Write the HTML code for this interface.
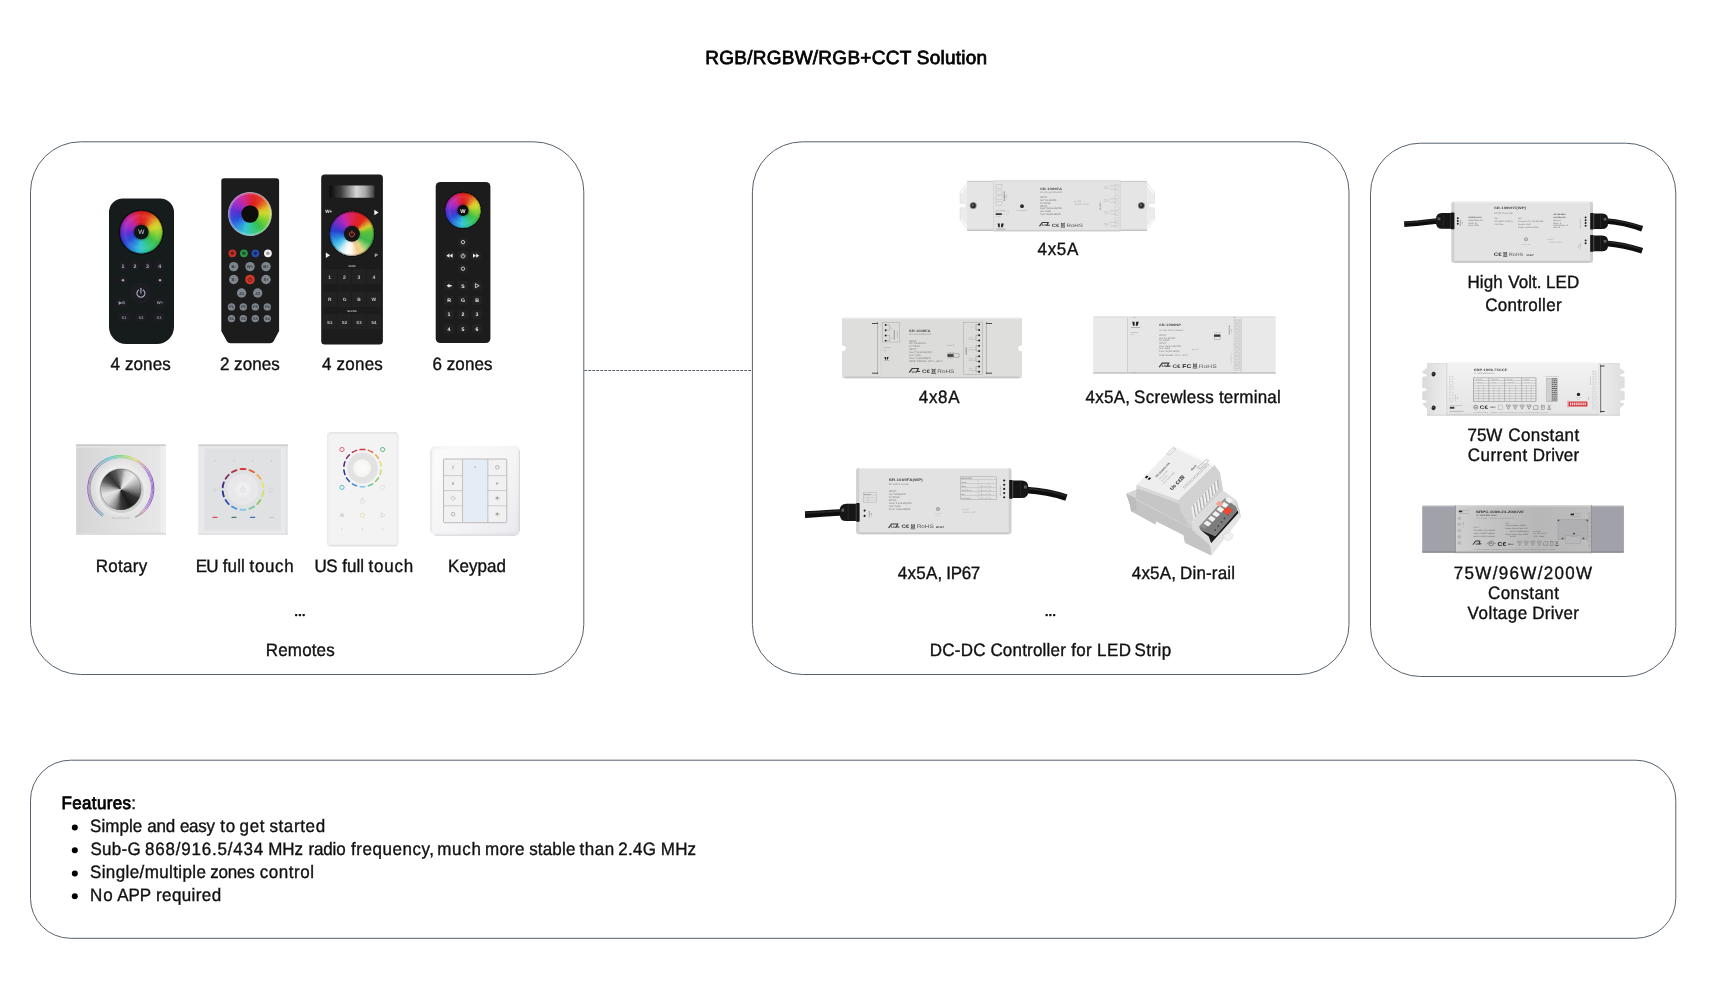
<!DOCTYPE html>
<html><head><meta charset="utf-8"><title>RGB/RGBW/RGB+CCT Solution</title>
<style>
html,body{margin:0;padding:0;background:#fff;}
body{width:1733px;height:1000px;overflow:hidden;font-family:'Liberation Sans', sans-serif;}
svg{display:block;position:absolute;left:0;top:0;will-change:transform;}
svg text{font-family:'Liberation Sans', sans-serif;text-rendering:geometricPrecision;}
</style></head>
<body>
<svg width="1733" height="1000" viewBox="0 0 1733 1000">
<rect x="30.5" y="141.8" width="553.30" height="532.70" rx="50" ry="50" fill="none" stroke="#56606c" stroke-width="1"/>
<rect x="752.4" y="141.8" width="596.60" height="532.70" rx="50" ry="50" fill="none" stroke="#56606c" stroke-width="1"/>
<rect x="1370.5" y="143.2" width="305.30" height="533.30" rx="50" ry="50" fill="none" stroke="#56606c" stroke-width="1"/>
<rect x="30.5" y="760.2" width="1645.30" height="178.10" rx="40" ry="40" fill="none" stroke="#56606c" stroke-width="1"/>
<line x1="584.3" y1="370.5" x2="752" y2="370.5" stroke="#56606c" stroke-width="1" stroke-dasharray="2.8 1.2"/>
<g id="txt">
<text x="705.20" y="63.70" font-size="19" font-weight="normal" fill="#000" stroke="#000" stroke-width="0.75" textLength="282.00" lengthAdjust="spacing"  >RGB/RGBW/RGB+CCT Solution</text>
<text x="110.50" y="370.00" font-size="17" font-weight="normal" fill="#111" stroke="#111" stroke-width="0.35" textLength="10.50" lengthAdjust="spacing" transform="matrix(1 0 0 1.055 0 -20.350)" >4</text>
<text x="125.00" y="370.00" font-size="17" font-weight="normal" fill="#111" stroke="#111" stroke-width="0.35" textLength="45.70" lengthAdjust="spacing" transform="matrix(1 0 0 1.055 0 -20.350)" >zones</text>
<text x="220.10" y="370.00" font-size="17" font-weight="normal" fill="#111" stroke="#111" stroke-width="0.35" textLength="10.00" lengthAdjust="spacing" transform="matrix(1 0 0 1.055 0 -20.350)" >2</text>
<text x="234.10" y="370.00" font-size="17" font-weight="normal" fill="#111" stroke="#111" stroke-width="0.35" textLength="45.70" lengthAdjust="spacing" transform="matrix(1 0 0 1.055 0 -20.350)" >zones</text>
<text x="322.10" y="370.00" font-size="17" font-weight="normal" fill="#111" stroke="#111" stroke-width="0.35" textLength="10.50" lengthAdjust="spacing" transform="matrix(1 0 0 1.055 0 -20.350)" >4</text>
<text x="336.60" y="370.00" font-size="17" font-weight="normal" fill="#111" stroke="#111" stroke-width="0.35" textLength="46.20" lengthAdjust="spacing" transform="matrix(1 0 0 1.055 0 -20.350)" >zones</text>
<text x="432.40" y="370.00" font-size="17" font-weight="normal" fill="#111" stroke="#111" stroke-width="0.35" textLength="10.20" lengthAdjust="spacing" transform="matrix(1 0 0 1.055 0 -20.350)" >6</text>
<text x="446.70" y="370.00" font-size="17" font-weight="normal" fill="#111" stroke="#111" stroke-width="0.35" textLength="45.90" lengthAdjust="spacing" transform="matrix(1 0 0 1.055 0 -20.350)" >zones</text>
<text x="95.70" y="572.40" font-size="17" font-weight="normal" fill="#111" stroke="#111" stroke-width="0.35" textLength="51.60" lengthAdjust="spacing" transform="matrix(1 0 0 1.055 0 -31.482)" >Rotary</text>
<text x="195.80" y="572.40" font-size="17" font-weight="normal" fill="#111" stroke="#111" stroke-width="0.35" textLength="22.70" lengthAdjust="spacing" transform="matrix(1 0 0 1.055 0 -31.482)" >EU</text>
<text x="222.80" y="572.40" font-size="17" font-weight="normal" fill="#111" stroke="#111" stroke-width="0.35" textLength="22.00" lengthAdjust="spacing" transform="matrix(1 0 0 1.055 0 -31.482)" >full</text>
<text x="249.60" y="572.40" font-size="17" font-weight="normal" fill="#111" stroke="#111" stroke-width="0.35" textLength="44.10" lengthAdjust="spacing" transform="matrix(1 0 0 1.055 0 -31.482)" >touch</text>
<text x="314.60" y="572.40" font-size="17" font-weight="normal" fill="#111" stroke="#111" stroke-width="0.35" textLength="23.10" lengthAdjust="spacing" transform="matrix(1 0 0 1.055 0 -31.482)" >US</text>
<text x="342.20" y="572.40" font-size="17" font-weight="normal" fill="#111" stroke="#111" stroke-width="0.35" textLength="21.80" lengthAdjust="spacing" transform="matrix(1 0 0 1.055 0 -31.482)" >full</text>
<text x="368.50" y="572.40" font-size="17" font-weight="normal" fill="#111" stroke="#111" stroke-width="0.35" textLength="44.60" lengthAdjust="spacing" transform="matrix(1 0 0 1.055 0 -31.482)" >touch</text>
<text x="448.10" y="572.40" font-size="17" font-weight="normal" fill="#111" stroke="#111" stroke-width="0.35" textLength="57.90" lengthAdjust="spacing" transform="matrix(1 0 0 1.055 0 -31.482)" >Keypad</text>
<text x="265.80" y="656.00" font-size="17" font-weight="normal" fill="#111" stroke="#111" stroke-width="0.35" textLength="68.90" lengthAdjust="spacing" transform="matrix(1 0 0 1.055 0 -36.080)" >Remotes</text>
<text x="1037.50" y="255.40" font-size="17" font-weight="normal" fill="#111" stroke="#111" stroke-width="0.35" textLength="40.80" lengthAdjust="spacing" transform="matrix(1 0 0 1.055 0 -14.047)" >4x5A</text>
<text x="918.80" y="402.90" font-size="17" font-weight="normal" fill="#111" stroke="#111" stroke-width="0.35" textLength="40.70" lengthAdjust="spacing" transform="matrix(1 0 0 1.055 0 -22.159)" >4x8A</text>
<text x="1085.60" y="402.90" font-size="17" font-weight="normal" fill="#111" stroke="#111" stroke-width="0.35" textLength="44.40" lengthAdjust="spacing" transform="matrix(1 0 0 1.055 0 -22.159)" >4x5A,</text>
<text x="1134.10" y="402.90" font-size="17" font-weight="normal" fill="#111" stroke="#111" stroke-width="0.35" textLength="79.60" lengthAdjust="spacing" transform="matrix(1 0 0 1.055 0 -22.159)" >Screwless</text>
<text x="1218.90" y="402.90" font-size="17" font-weight="normal" fill="#111" stroke="#111" stroke-width="0.35" textLength="61.90" lengthAdjust="spacing" transform="matrix(1 0 0 1.055 0 -22.159)" >terminal</text>
<text x="897.80" y="578.90" font-size="17" font-weight="normal" fill="#111" stroke="#111" stroke-width="0.35" textLength="44.40" lengthAdjust="spacing" transform="matrix(1 0 0 1.055 0 -31.839)" >4x5A,</text>
<text x="946.30" y="578.90" font-size="17" font-weight="normal" fill="#111" stroke="#111" stroke-width="0.35" textLength="34.00" lengthAdjust="spacing" transform="matrix(1 0 0 1.055 0 -31.839)" >IP67</text>
<text x="1131.70" y="578.90" font-size="17" font-weight="normal" fill="#111" stroke="#111" stroke-width="0.35" textLength="44.40" lengthAdjust="spacing" transform="matrix(1 0 0 1.055 0 -31.839)" >4x5A,</text>
<text x="1180.10" y="578.90" font-size="17" font-weight="normal" fill="#111" stroke="#111" stroke-width="0.35" textLength="54.90" lengthAdjust="spacing" transform="matrix(1 0 0 1.055 0 -31.839)" >Din-rail</text>
<text x="929.80" y="655.70" font-size="17" font-weight="normal" fill="#111" stroke="#111" stroke-width="0.35" textLength="55.70" lengthAdjust="spacing" transform="matrix(1 0 0 1.055 0 -36.063)" >DC-DC</text>
<text x="990.40" y="655.70" font-size="17" font-weight="normal" fill="#111" stroke="#111" stroke-width="0.35" textLength="75.40" lengthAdjust="spacing" transform="matrix(1 0 0 1.055 0 -36.063)" >Controller</text>
<text x="1071.20" y="655.70" font-size="17" font-weight="normal" fill="#111" stroke="#111" stroke-width="0.35" textLength="20.50" lengthAdjust="spacing" transform="matrix(1 0 0 1.055 0 -36.063)" >for</text>
<text x="1097.00" y="655.70" font-size="17" font-weight="normal" fill="#111" stroke="#111" stroke-width="0.35" textLength="34.00" lengthAdjust="spacing" transform="matrix(1 0 0 1.055 0 -36.063)" >LED</text>
<text x="1134.50" y="655.70" font-size="17" font-weight="normal" fill="#111" stroke="#111" stroke-width="0.35" textLength="36.80" lengthAdjust="spacing" transform="matrix(1 0 0 1.055 0 -36.063)" >Strip</text>
<text x="1467.40" y="287.80" font-size="17" font-weight="normal" fill="#111" stroke="#111" stroke-width="0.35" textLength="35.30" lengthAdjust="spacing" transform="matrix(1 0 0 1.055 0 -15.829)" >High</text>
<text x="1508.30" y="287.80" font-size="17" font-weight="normal" fill="#111" stroke="#111" stroke-width="0.35" textLength="33.10" lengthAdjust="spacing" transform="matrix(1 0 0 1.055 0 -15.829)" >Volt.</text>
<text x="1546.00" y="287.80" font-size="17" font-weight="normal" fill="#111" stroke="#111" stroke-width="0.35" textLength="33.20" lengthAdjust="spacing" transform="matrix(1 0 0 1.055 0 -15.829)" >LED</text>
<text x="1485.30" y="310.80" font-size="17" font-weight="normal" fill="#111" stroke="#111" stroke-width="0.35" textLength="76.30" lengthAdjust="spacing" transform="matrix(1 0 0 1.055 0 -17.094)" >Controller</text>
<text x="1467.60" y="440.80" font-size="17" font-weight="normal" fill="#111" stroke="#111" stroke-width="0.35" textLength="34.80" lengthAdjust="spacing" transform="matrix(1 0 0 1.055 0 -24.244)" >75W</text>
<text x="1508.30" y="440.80" font-size="17" font-weight="normal" fill="#111" stroke="#111" stroke-width="0.35" textLength="70.90" lengthAdjust="spacing" transform="matrix(1 0 0 1.055 0 -24.244)" >Constant</text>
<text x="1467.80" y="460.70" font-size="17" font-weight="normal" fill="#111" stroke="#111" stroke-width="0.35" textLength="59.40" lengthAdjust="spacing" transform="matrix(1 0 0 1.055 0 -25.338)" >Current</text>
<text x="1532.80" y="460.70" font-size="17" font-weight="normal" fill="#111" stroke="#111" stroke-width="0.35" textLength="46.40" lengthAdjust="spacing" transform="matrix(1 0 0 1.055 0 -25.338)" >Driver</text>
<text x="1453.70" y="578.50" font-size="17" font-weight="normal" fill="#111" stroke="#111" stroke-width="0.35" textLength="138.40" lengthAdjust="spacing" transform="matrix(1 0 0 1.055 0 -31.817)" >75W/96W/200W</text>
<text x="1488.00" y="598.70" font-size="17" font-weight="normal" fill="#111" stroke="#111" stroke-width="0.35" textLength="70.90" lengthAdjust="spacing" transform="matrix(1 0 0 1.055 0 -32.928)" >Constant</text>
<text x="1467.60" y="618.80" font-size="17" font-weight="normal" fill="#111" stroke="#111" stroke-width="0.35" textLength="59.60" lengthAdjust="spacing" transform="matrix(1 0 0 1.055 0 -34.034)" >Voltage</text>
<text x="1532.30" y="618.80" font-size="17" font-weight="normal" fill="#111" stroke="#111" stroke-width="0.35" textLength="46.60" lengthAdjust="spacing" transform="matrix(1 0 0 1.055 0 -34.034)" >Driver</text>
<text x="61.50" y="808.80" font-size="17" font-weight="normal" fill="#000" stroke="#000" stroke-width="0.75" textLength="69.50" lengthAdjust="spacing" transform="matrix(1 0 0 1.055 0 -44.484)" >Features</text>
<text x="131.20" y="808.80" font-size="17" font-weight="normal" fill="#111" stroke="#111" stroke-width="0.35" textLength="4.60" lengthAdjust="spacing" transform="matrix(1 0 0 1.055 0 -44.484)" >:</text>
<text x="90.00" y="831.90" font-size="17" font-weight="normal" fill="#111" stroke="#111" stroke-width="0.35" textLength="52.30" lengthAdjust="spacing" transform="matrix(1 0 0 1.055 0 -45.754)" >Simple</text>
<text x="147.20" y="831.90" font-size="17" font-weight="normal" fill="#111" stroke="#111" stroke-width="0.35" textLength="28.00" lengthAdjust="spacing" transform="matrix(1 0 0 1.055 0 -45.754)" >and</text>
<text x="179.90" y="831.90" font-size="17" font-weight="normal" fill="#111" stroke="#111" stroke-width="0.35" textLength="35.10" lengthAdjust="spacing" transform="matrix(1 0 0 1.055 0 -45.754)" >easy</text>
<text x="220.30" y="831.90" font-size="17" font-weight="normal" fill="#111" stroke="#111" stroke-width="0.35" textLength="14.90" lengthAdjust="spacing" transform="matrix(1 0 0 1.055 0 -45.754)" >to</text>
<text x="239.50" y="831.90" font-size="17" font-weight="normal" fill="#111" stroke="#111" stroke-width="0.35" textLength="25.00" lengthAdjust="spacing" transform="matrix(1 0 0 1.055 0 -45.754)" >get</text>
<text x="269.40" y="831.90" font-size="17" font-weight="normal" fill="#111" stroke="#111" stroke-width="0.35" textLength="55.70" lengthAdjust="spacing" transform="matrix(1 0 0 1.055 0 -45.754)" >started</text>
<text x="90.40" y="854.70" font-size="17" font-weight="normal" fill="#111" stroke="#111" stroke-width="0.35" textLength="50.40" lengthAdjust="spacing" transform="matrix(1 0 0 1.055 0 -47.008)" >Sub-G</text>
<text x="144.90" y="854.70" font-size="17" font-weight="normal" fill="#111" stroke="#111" stroke-width="0.35" textLength="118.30" lengthAdjust="spacing" transform="matrix(1 0 0 1.055 0 -47.008)" >868/916.5/434</text>
<text x="268.20" y="854.70" font-size="17" font-weight="normal" fill="#111" stroke="#111" stroke-width="0.35" textLength="34.90" lengthAdjust="spacing" transform="matrix(1 0 0 1.055 0 -47.008)" >MHz</text>
<text x="308.50" y="854.70" font-size="17" font-weight="normal" fill="#111" stroke="#111" stroke-width="0.35" textLength="37.20" lengthAdjust="spacing" transform="matrix(1 0 0 1.055 0 -47.008)" >radio</text>
<text x="350.90" y="854.70" font-size="17" font-weight="normal" fill="#111" stroke="#111" stroke-width="0.35" textLength="83.10" lengthAdjust="spacing" transform="matrix(1 0 0 1.055 0 -47.008)" >frequency,</text>
<text x="437.20" y="854.70" font-size="17" font-weight="normal" fill="#111" stroke="#111" stroke-width="0.35" textLength="43.70" lengthAdjust="spacing" transform="matrix(1 0 0 1.055 0 -47.008)" >much</text>
<text x="485.00" y="854.70" font-size="17" font-weight="normal" fill="#111" stroke="#111" stroke-width="0.35" textLength="39.50" lengthAdjust="spacing" transform="matrix(1 0 0 1.055 0 -47.008)" >more</text>
<text x="529.20" y="854.70" font-size="17" font-weight="normal" fill="#111" stroke="#111" stroke-width="0.35" textLength="46.20" lengthAdjust="spacing" transform="matrix(1 0 0 1.055 0 -47.008)" >stable</text>
<text x="579.50" y="854.70" font-size="17" font-weight="normal" fill="#111" stroke="#111" stroke-width="0.35" textLength="34.80" lengthAdjust="spacing" transform="matrix(1 0 0 1.055 0 -47.008)" >than</text>
<text x="618.20" y="854.70" font-size="17" font-weight="normal" fill="#111" stroke="#111" stroke-width="0.35" textLength="37.90" lengthAdjust="spacing" transform="matrix(1 0 0 1.055 0 -47.008)" >2.4G</text>
<text x="660.80" y="854.70" font-size="17" font-weight="normal" fill="#111" stroke="#111" stroke-width="0.35" textLength="35.30" lengthAdjust="spacing" transform="matrix(1 0 0 1.055 0 -47.008)" >MHz</text>
<text x="90.00" y="877.90" font-size="17" font-weight="normal" fill="#111" stroke="#111" stroke-width="0.35" textLength="115.90" lengthAdjust="spacing" transform="matrix(1 0 0 1.055 0 -48.284)" >Single/multiple</text>
<text x="210.20" y="877.90" font-size="17" font-weight="normal" fill="#111" stroke="#111" stroke-width="0.35" textLength="44.60" lengthAdjust="spacing" transform="matrix(1 0 0 1.055 0 -48.284)" >zones</text>
<text x="259.70" y="877.90" font-size="17" font-weight="normal" fill="#111" stroke="#111" stroke-width="0.35" textLength="54.30" lengthAdjust="spacing" transform="matrix(1 0 0 1.055 0 -48.284)" >control</text>
<text x="90.00" y="900.70" font-size="17" font-weight="normal" fill="#111" stroke="#111" stroke-width="0.35" textLength="22.60" lengthAdjust="spacing" transform="matrix(1 0 0 1.055 0 -49.538)" >No</text>
<text x="117.30" y="900.70" font-size="17" font-weight="normal" fill="#111" stroke="#111" stroke-width="0.35" textLength="33.70" lengthAdjust="spacing" transform="matrix(1 0 0 1.055 0 -49.538)" >APP</text>
<text x="156.00" y="900.70" font-size="17" font-weight="normal" fill="#111" stroke="#111" stroke-width="0.35" textLength="65.10" lengthAdjust="spacing" transform="matrix(1 0 0 1.055 0 -49.538)" >required</text>
<circle cx="74.8" cy="827.4" r="3" fill="#000"/>
<circle cx="74.8" cy="850.3" r="3" fill="#000"/>
<circle cx="74.8" cy="873.4" r="3" fill="#000"/>
<circle cx="74.8" cy="896.3" r="3" fill="#000"/>
<rect x="295.00" y="613.9" width="2.3" height="2.3" rx="0.7" fill="#111"/>
<rect x="298.75" y="613.9" width="2.3" height="2.3" rx="0.7" fill="#111"/>
<rect x="302.50" y="613.9" width="2.3" height="2.3" rx="0.7" fill="#111"/>
<rect x="1045.50" y="613.9" width="2.3" height="2.3" rx="0.7" fill="#111"/>
<rect x="1049.25" y="613.9" width="2.3" height="2.3" rx="0.7" fill="#111"/>
<rect x="1053.00" y="613.9" width="2.3" height="2.3" rx="0.7" fill="#111"/>
</g>
<defs>
<filter id="soft" x="-5%" y="-5%" width="110%" height="110%"><feGaussianBlur stdDeviation="0.55"/></filter>
<filter id="soft2" x="-5%" y="-5%" width="110%" height="110%"><feGaussianBlur stdDeviation="0.3"/></filter>
<radialGradient id="whl_shade"><stop offset="0" stop-color="#000" stop-opacity="0.35"/><stop offset="0.4" stop-color="#000" stop-opacity="0.12"/><stop offset="0.55" stop-color="#fff" stop-opacity="0.0"/><stop offset="0.8" stop-color="#fff" stop-opacity="0.08"/><stop offset="0.94" stop-color="#000" stop-opacity="0.0"/><stop offset="1" stop-color="#000" stop-opacity="0.45"/></radialGradient>
<radialGradient id="whl_rim"><stop offset="0" stop-color="#000" stop-opacity="0.2"/><stop offset="0.5" stop-color="#fff" stop-opacity="0"/><stop offset="0.9" stop-color="#fff" stop-opacity="0.05"/><stop offset="1" stop-color="#fff" stop-opacity="0.4"/></radialGradient>
<radialGradient id="whl_shade3"><stop offset="0" stop-color="#000" stop-opacity="0.3"/><stop offset="0.5" stop-color="#000" stop-opacity="0.0"/><stop offset="0.92" stop-color="#000" stop-opacity="0.0"/><stop offset="1" stop-color="#000" stop-opacity="0.45"/></radialGradient>
<linearGradient id="lcd" x1="0" x2="1" y1="0" y2="0"><stop offset="0" stop-color="#0c0c0c"/><stop offset="0.25" stop-color="#3a3a3a"/><stop offset="0.6" stop-color="#d6d6d6"/><stop offset="0.8" stop-color="#a8a8a8"/><stop offset="1" stop-color="#3c3c3c"/></linearGradient>
</defs>
<g filter="url(#soft)">
<g id="remote1">
<path d="M123,198.4 H160 A14,14 0 0 1 174,212.4 V327 A17,17 0 0 1 157,344 H126 A17,17 0 0 1 109,327 V212.4 A14,14 0 0 1 123,198.4 Z" fill="#181a1e"/>
<circle cx="141.3" cy="232.1" r="22.6" fill="#0a0b0d"/>
<clipPath id="wc1"><circle cx="141.3" cy="232.1" r="21.3"/></clipPath>
<g clip-path="url(#wc1)" shape-rendering="crispEdges">
<path d="M141.30,232.10 L141.30,204.41 L144.61,204.61 Z" fill="#de201c"/>
<path d="M141.30,232.10 L143.23,204.48 L146.52,204.91 Z" fill="#de241c"/>
<path d="M141.30,232.10 L145.15,204.68 L148.40,205.34 Z" fill="#de271c"/>
<path d="M141.30,232.10 L147.06,205.02 L150.25,205.90 Z" fill="#df2b1c"/>
<path d="M141.30,232.10 L148.93,205.48 L152.06,206.59 Z" fill="#df2e1c"/>
<path d="M141.30,232.10 L150.77,206.08 L153.81,207.40 Z" fill="#e0331c"/>
<path d="M141.30,232.10 L152.56,206.80 L155.51,208.33 Z" fill="#e0411c"/>
<path d="M141.30,232.10 L154.30,207.65 L157.13,209.38 Z" fill="#e04e1c"/>
<path d="M141.30,232.10 L155.97,208.62 L158.68,210.54 Z" fill="#e15c1d"/>
<path d="M141.30,232.10 L157.58,209.70 L160.14,211.80 Z" fill="#e16a1d"/>
<path d="M141.30,232.10 L159.10,210.89 L161.51,213.17 Z" fill="#e17a1f"/>
<path d="M141.30,232.10 L160.54,212.18 L162.78,214.62 Z" fill="#df8c20"/>
<path d="M141.30,232.10 L161.88,213.57 L163.94,216.16 Z" fill="#de9e22"/>
<path d="M141.30,232.10 L163.12,215.05 L165.00,217.78 Z" fill="#ddb024"/>
<path d="M141.30,232.10 L164.26,216.62 L165.94,219.47 Z" fill="#dbc026"/>
<path d="M141.30,232.10 L165.28,218.25 L166.76,221.22 Z" fill="#d8c727"/>
<path d="M141.30,232.10 L166.19,219.96 L167.46,223.02 Z" fill="#d4ce28"/>
<path d="M141.30,232.10 L166.97,221.73 L168.03,224.87 Z" fill="#d0d429"/>
<path d="M141.30,232.10 L167.63,223.54 L168.47,226.75 Z" fill="#c8d72a"/>
<path d="M141.30,232.10 L168.17,225.40 L168.78,228.66 Z" fill="#bbd62a"/>
<path d="M141.30,232.10 L168.57,227.29 L168.95,230.59 Z" fill="#afd42b"/>
<path d="M141.30,232.10 L168.84,229.21 L168.99,232.52 Z" fill="#a2d32c"/>
<path d="M141.30,232.10 L168.97,231.13 L168.89,234.45 Z" fill="#95d22c"/>
<path d="M141.30,232.10 L168.97,233.07 L168.66,236.37 Z" fill="#89d12d"/>
<path d="M141.30,232.10 L168.84,234.99 L168.29,238.27 Z" fill="#7dcf2e"/>
<path d="M141.30,232.10 L168.57,236.91 L167.80,240.13 Z" fill="#73cd31"/>
<path d="M141.30,232.10 L168.17,238.80 L167.17,241.96 Z" fill="#69cb35"/>
<path d="M141.30,232.10 L167.63,240.66 L166.42,243.74 Z" fill="#5ec838"/>
<path d="M141.30,232.10 L166.97,242.47 L165.55,245.47 Z" fill="#55c63c"/>
<path d="M141.30,232.10 L166.19,244.24 L164.56,247.13 Z" fill="#4ac43f"/>
<path d="M141.30,232.10 L165.28,245.94 L163.45,248.71 Z" fill="#40c242"/>
<path d="M141.30,232.10 L164.26,247.58 L162.24,250.22 Z" fill="#37c046"/>
<path d="M141.30,232.10 L163.12,249.15 L160.93,251.63 Z" fill="#36c04f"/>
<path d="M141.30,232.10 L161.88,250.63 L159.52,252.95 Z" fill="#35c158"/>
<path d="M141.30,232.10 L160.54,252.02 L158.02,254.17 Z" fill="#34c261"/>
<path d="M141.30,232.10 L159.10,253.31 L156.44,255.29 Z" fill="#33c36a"/>
<path d="M141.30,232.10 L157.58,254.50 L154.78,256.29 Z" fill="#32c473"/>
<path d="M141.30,232.10 L155.97,255.58 L153.06,257.17 Z" fill="#31c57c"/>
<path d="M141.30,232.10 L154.30,256.55 L151.28,257.93 Z" fill="#30c685"/>
<path d="M141.30,232.10 L152.56,257.40 L149.46,258.56 Z" fill="#30c78f"/>
<path d="M141.30,232.10 L150.77,258.12 L147.59,259.07 Z" fill="#30c799"/>
<path d="M141.30,232.10 L148.93,258.72 L145.70,259.44 Z" fill="#30c6a4"/>
<path d="M141.30,232.10 L147.06,259.18 L143.78,259.68 Z" fill="#30c6af"/>
<path d="M141.30,232.10 L145.15,259.52 L141.85,259.78 Z" fill="#30c5ba"/>
<path d="M141.30,232.10 L143.23,259.72 L139.92,259.76 Z" fill="#30c4c4"/>
<path d="M141.30,232.10 L141.30,259.79 L137.99,259.59 Z" fill="#30c4cf"/>
<path d="M141.30,232.10 L139.37,259.72 L136.08,259.29 Z" fill="#2fbed5"/>
<path d="M141.30,232.10 L137.45,259.52 L134.20,258.86 Z" fill="#2eb5d7"/>
<path d="M141.30,232.10 L135.54,259.18 L132.35,258.30 Z" fill="#2dacd8"/>
<path d="M141.30,232.10 L133.67,258.72 L130.54,257.61 Z" fill="#2ca2da"/>
<path d="M141.30,232.10 L131.83,258.12 L128.79,256.80 Z" fill="#2b99dc"/>
<path d="M141.30,232.10 L130.04,257.40 L127.09,255.87 Z" fill="#2a90de"/>
<path d="M141.30,232.10 L128.30,256.55 L125.47,254.82 Z" fill="#2987df"/>
<path d="M141.30,232.10 L126.63,255.58 L123.92,253.66 Z" fill="#297dde"/>
<path d="M141.30,232.10 L125.02,254.50 L122.46,252.40 Z" fill="#2974dd"/>
<path d="M141.30,232.10 L123.50,253.31 L121.09,251.03 Z" fill="#296adc"/>
<path d="M141.30,232.10 L122.06,252.02 L119.82,249.58 Z" fill="#2961db"/>
<path d="M141.30,232.10 L120.72,250.63 L118.66,248.04 Z" fill="#2957da"/>
<path d="M141.30,232.10 L119.48,249.15 L117.60,246.42 Z" fill="#294ed9"/>
<path d="M141.30,232.10 L118.34,247.58 L116.66,244.73 Z" fill="#2945d7"/>
<path d="M141.30,232.10 L117.32,245.94 L115.84,242.98 Z" fill="#3042d6"/>
<path d="M141.30,232.10 L116.41,244.24 L115.14,241.18 Z" fill="#373ed5"/>
<path d="M141.30,232.10 L115.63,242.47 L114.57,239.33 Z" fill="#3e3ad4"/>
<path d="M141.30,232.10 L114.97,240.66 L114.13,237.45 Z" fill="#4437d3"/>
<path d="M141.30,232.10 L114.43,238.80 L113.82,235.54 Z" fill="#4b33d2"/>
<path d="M141.30,232.10 L114.03,236.91 L113.65,233.61 Z" fill="#522fd1"/>
<path d="M141.30,232.10 L113.76,234.99 L113.61,231.68 Z" fill="#592cd0"/>
<path d="M141.30,232.10 L113.63,233.07 L113.71,229.75 Z" fill="#632bce"/>
<path d="M141.30,232.10 L113.63,231.13 L113.94,227.83 Z" fill="#6c2acc"/>
<path d="M141.30,232.10 L113.76,229.21 L114.31,225.93 Z" fill="#772acb"/>
<path d="M141.30,232.10 L114.03,227.29 L114.80,224.07 Z" fill="#8129c9"/>
<path d="M141.30,232.10 L114.43,225.40 L115.43,222.24 Z" fill="#8b29c7"/>
<path d="M141.30,232.10 L114.97,223.54 L116.18,220.46 Z" fill="#9528c6"/>
<path d="M141.30,232.10 L115.63,221.73 L117.05,218.73 Z" fill="#9f28c4"/>
<path d="M141.30,232.10 L116.41,219.96 L118.04,217.07 Z" fill="#a627bf"/>
<path d="M141.30,232.10 L117.32,218.25 L119.15,215.49 Z" fill="#ac27b8"/>
<path d="M141.30,232.10 L118.34,216.62 L120.36,213.98 Z" fill="#b227b2"/>
<path d="M141.30,232.10 L119.48,215.05 L121.67,212.57 Z" fill="#b826ab"/>
<path d="M141.30,232.10 L120.72,213.57 L123.08,211.25 Z" fill="#be26a4"/>
<path d="M141.30,232.10 L122.06,212.18 L124.58,210.03 Z" fill="#c4269e"/>
<path d="M141.30,232.10 L123.50,210.89 L126.16,208.91 Z" fill="#c92594"/>
<path d="M141.30,232.10 L125.02,209.70 L127.82,207.91 Z" fill="#cc2486"/>
<path d="M141.30,232.10 L126.63,208.62 L129.54,207.03 Z" fill="#cf2379"/>
<path d="M141.30,232.10 L128.30,207.65 L131.32,206.27 Z" fill="#d2226b"/>
<path d="M141.30,232.10 L130.04,206.80 L133.14,205.64 Z" fill="#d5215d"/>
<path d="M141.30,232.10 L131.83,206.08 L135.01,205.13 Z" fill="#d82050"/>
<path d="M141.30,232.10 L133.67,205.48 L136.90,204.76 Z" fill="#d91f44"/>
<path d="M141.30,232.10 L135.54,205.02 L138.82,204.52 Z" fill="#da1f39"/>
<path d="M141.30,232.10 L137.45,204.68 L140.75,204.42 Z" fill="#dc1f2e"/>
<path d="M141.30,232.10 L139.37,204.48 L142.68,204.44 Z" fill="#dd1f22"/>
</g>
<circle cx="141.3" cy="232.1" r="21.3" fill="url(#whl_shade)"/>
<circle cx="141.3" cy="232.1" r="7.4" fill="#101318"/>
<text x="141.30" y="234.40" font-size="6.5" font-weight="normal" fill="#d8d8d8" text-anchor="middle" >W</text>
<circle cx="123" cy="265.7" r="4.6" fill="#1b1d22"/>
<text x="123.00" y="267.60" font-size="5.2" font-weight="bold" fill="#b9bcc0" text-anchor="middle" >1</text>
<circle cx="135" cy="265.7" r="4.6" fill="#1b1d22"/>
<text x="135.00" y="267.60" font-size="5.2" font-weight="bold" fill="#b9bcc0" text-anchor="middle" >2</text>
<circle cx="147.5" cy="265.7" r="4.6" fill="#1b1d22"/>
<text x="147.50" y="267.60" font-size="5.2" font-weight="bold" fill="#b9bcc0" text-anchor="middle" >3</text>
<circle cx="159.6" cy="265.7" r="4.6" fill="#1b1d22"/>
<text x="159.60" y="267.60" font-size="5.2" font-weight="bold" fill="#b9bcc0" text-anchor="middle" >4</text>
<circle cx="123" cy="280.2" r="4.8" fill="#1b1d22"/>
<circle cx="123" cy="280.2" r="1.2" fill="#a8abb0"/>
<circle cx="160" cy="280.2" r="4.8" fill="#1b1d22"/>
<circle cx="160" cy="280.2" r="1.2" fill="#a8abb0"/>
<circle cx="140.9" cy="292.9" r="10.5" fill="#1c1f24"/>
<path d="M143.19,290.02 A4.0,4.0 0 1 1 138.61,290.02" fill="none" stroke="#aab0b8" stroke-width="1.1" stroke-linecap="round"/>
<line x1="140.9" y1="288.30" x2="140.9" y2="292.90" stroke="#aab0b8" stroke-width="1.1" stroke-linecap="round"/>
<rect x="115.5" y="298.2" width="13" height="8.8" rx="4.4" fill="#1b1d22"/>
<text x="122.00" y="304.20" font-size="4.2" font-weight="bold" fill="#9da1a7" text-anchor="middle" >&#9654;&#8857;</text>
<rect x="153.5" y="298.2" width="13" height="8.8" rx="4.4" fill="#1b1d22"/>
<text x="160.00" y="304.20" font-size="4.2" font-weight="bold" fill="#9da1a7" text-anchor="middle" >W+</text>
<rect x="117.5" y="312.8" width="13" height="8.8" rx="4" fill="#1b1d22"/>
<text x="124.00" y="318.70" font-size="4.0" font-weight="bold" fill="#8c9096" text-anchor="middle" >S1</text>
<rect x="134.5" y="312.8" width="13" height="8.8" rx="4" fill="#1b1d22"/>
<text x="141.00" y="318.70" font-size="4.0" font-weight="bold" fill="#8c9096" text-anchor="middle" >S2</text>
<rect x="152.5" y="312.8" width="13" height="8.8" rx="4" fill="#1b1d22"/>
<text x="159.00" y="318.70" font-size="4.0" font-weight="bold" fill="#8c9096" text-anchor="middle" >S3</text>
</g>
<g id="remote2">
<path d="M224,178.3 H276.3 A2.8,2.8 0 0 1 279.1,181.1 V331 L273.5,341.5 Q272.5,343.2 270,343.2 H230.5 Q228,343.2 227,341.5 L221.3,331 V181.1 A2.8,2.8 0 0 1 224,178.3 Z" fill="#1a1c1e"/>
<circle cx="250.0" cy="214.0" r="21.9" fill="#b9bfd2"/>
<clipPath id="wc2"><circle cx="250.0" cy="214.0" r="21.2"/></clipPath>
<g clip-path="url(#wc2)" shape-rendering="crispEdges">
<path d="M250.00,214.00 L250.00,186.44 L253.29,186.64 Z" fill="#d91f40"/>
<path d="M250.00,214.00 L251.92,186.51 L255.19,186.93 Z" fill="#db1f34"/>
<path d="M250.00,214.00 L253.84,186.71 L257.07,187.36 Z" fill="#dc1f29"/>
<path d="M250.00,214.00 L255.73,187.04 L258.91,187.92 Z" fill="#dd1f1e"/>
<path d="M250.00,214.00 L257.60,187.51 L260.71,188.61 Z" fill="#de221c"/>
<path d="M250.00,214.00 L259.43,188.10 L262.45,189.41 Z" fill="#de251c"/>
<path d="M250.00,214.00 L261.21,188.82 L264.14,190.34 Z" fill="#df291c"/>
<path d="M250.00,214.00 L262.94,189.67 L265.75,191.39 Z" fill="#df2c1c"/>
<path d="M250.00,214.00 L264.60,190.63 L267.29,192.54 Z" fill="#df301c"/>
<path d="M250.00,214.00 L266.20,191.70 L268.75,193.80 Z" fill="#e0381c"/>
<path d="M250.00,214.00 L267.72,192.89 L270.11,195.16 Z" fill="#e0461c"/>
<path d="M250.00,214.00 L269.14,194.17 L271.38,196.61 Z" fill="#e1541d"/>
<path d="M250.00,214.00 L270.48,195.56 L272.54,198.14 Z" fill="#e1621d"/>
<path d="M250.00,214.00 L271.72,197.03 L273.59,199.75 Z" fill="#e26f1e"/>
<path d="M250.00,214.00 L272.85,198.59 L274.53,201.43 Z" fill="#e0811f"/>
<path d="M250.00,214.00 L273.87,200.22 L275.34,203.17 Z" fill="#df9321"/>
<path d="M250.00,214.00 L274.77,201.92 L276.04,204.97 Z" fill="#dea523"/>
<path d="M250.00,214.00 L275.55,203.68 L276.60,206.80 Z" fill="#dcb725"/>
<path d="M250.00,214.00 L276.21,205.48 L277.04,208.68 Z" fill="#dac326"/>
<path d="M250.00,214.00 L276.74,207.33 L277.35,210.58 Z" fill="#d6ca27"/>
<path d="M250.00,214.00 L277.14,209.21 L277.52,212.49 Z" fill="#d2d028"/>
<path d="M250.00,214.00 L277.41,211.12 L277.56,214.42 Z" fill="#cfd729"/>
<path d="M250.00,214.00 L277.54,213.04 L277.46,216.34 Z" fill="#c3d62a"/>
<path d="M250.00,214.00 L277.54,214.96 L277.23,218.25 Z" fill="#b6d52b"/>
<path d="M250.00,214.00 L277.41,216.88 L276.87,220.14 Z" fill="#aad42b"/>
<path d="M250.00,214.00 L277.14,218.79 L276.37,222.00 Z" fill="#9dd32c"/>
<path d="M250.00,214.00 L276.74,220.67 L275.75,223.82 Z" fill="#90d12d"/>
<path d="M250.00,214.00 L276.21,222.52 L275.01,225.59 Z" fill="#84d02d"/>
<path d="M250.00,214.00 L275.55,224.32 L274.14,227.30 Z" fill="#79ce30"/>
<path d="M250.00,214.00 L274.77,226.08 L273.15,228.96 Z" fill="#6fcc33"/>
<path d="M250.00,214.00 L273.87,227.78 L272.05,230.53 Z" fill="#64ca36"/>
<path d="M250.00,214.00 L272.85,229.41 L270.84,232.03 Z" fill="#5bc83a"/>
<path d="M250.00,214.00 L271.72,230.97 L269.53,233.44 Z" fill="#50c53d"/>
<path d="M250.00,214.00 L270.48,232.44 L268.13,234.76 Z" fill="#46c340"/>
<path d="M250.00,214.00 L269.14,233.83 L266.64,235.97 Z" fill="#3cc144"/>
<path d="M250.00,214.00 L267.72,235.11 L265.06,237.08 Z" fill="#36c049"/>
<path d="M250.00,214.00 L266.20,236.30 L263.42,238.07 Z" fill="#35c152"/>
<path d="M250.00,214.00 L264.60,237.37 L261.71,238.95 Z" fill="#34c25b"/>
<path d="M250.00,214.00 L262.94,238.33 L259.94,239.71 Z" fill="#34c365"/>
<path d="M250.00,214.00 L261.21,239.18 L258.12,240.34 Z" fill="#33c46e"/>
<path d="M250.00,214.00 L259.43,239.90 L256.26,240.84 Z" fill="#32c577"/>
<path d="M250.00,214.00 L257.60,240.49 L254.38,241.21 Z" fill="#31c680"/>
<path d="M250.00,214.00 L255.73,240.96 L252.47,241.45 Z" fill="#30c789"/>
<path d="M250.00,214.00 L253.84,241.29 L250.55,241.55 Z" fill="#30c793"/>
<path d="M250.00,214.00 L251.92,241.49 L248.62,241.53 Z" fill="#30c79e"/>
<path d="M250.00,214.00 L250.00,241.56 L246.71,241.36 Z" fill="#30c6a8"/>
<path d="M250.00,214.00 L248.08,241.49 L244.81,241.07 Z" fill="#30c5b3"/>
<path d="M250.00,214.00 L246.16,241.29 L242.93,240.64 Z" fill="#30c5be"/>
<path d="M250.00,214.00 L244.27,240.96 L241.09,240.08 Z" fill="#30c4c9"/>
<path d="M250.00,214.00 L242.40,240.49 L239.29,239.39 Z" fill="#30c4d4"/>
<path d="M250.00,214.00 L240.57,239.90 L237.55,238.59 Z" fill="#2fbad5"/>
<path d="M250.00,214.00 L238.79,239.18 L235.86,237.66 Z" fill="#2eb1d7"/>
<path d="M250.00,214.00 L237.06,238.33 L234.25,236.61 Z" fill="#2da8d9"/>
<path d="M250.00,214.00 L235.40,237.37 L232.71,235.46 Z" fill="#2c9fdb"/>
<path d="M250.00,214.00 L233.80,236.30 L231.25,234.20 Z" fill="#2b95dd"/>
<path d="M250.00,214.00 L232.28,235.11 L229.89,232.84 Z" fill="#2a8cdf"/>
<path d="M250.00,214.00 L230.86,233.83 L228.62,231.39 Z" fill="#2983df"/>
<path d="M250.00,214.00 L229.52,232.44 L227.46,229.86 Z" fill="#2979de"/>
<path d="M250.00,214.00 L228.28,230.97 L226.41,228.25 Z" fill="#2970dd"/>
<path d="M250.00,214.00 L227.15,229.41 L225.47,226.57 Z" fill="#2967db"/>
<path d="M250.00,214.00 L226.13,227.78 L224.66,224.83 Z" fill="#295dda"/>
<path d="M250.00,214.00 L225.23,226.08 L223.96,223.03 Z" fill="#2954d9"/>
<path d="M250.00,214.00 L224.45,224.32 L223.40,221.20 Z" fill="#294ad8"/>
<path d="M250.00,214.00 L223.79,222.52 L222.96,219.32 Z" fill="#2c44d7"/>
<path d="M250.00,214.00 L223.26,220.67 L222.65,217.42 Z" fill="#3340d6"/>
<path d="M250.00,214.00 L222.86,218.79 L222.48,215.51 Z" fill="#3a3cd5"/>
<path d="M250.00,214.00 L222.59,216.88 L222.44,213.58 Z" fill="#4039d4"/>
<path d="M250.00,214.00 L222.46,214.96 L222.54,211.66 Z" fill="#4735d3"/>
<path d="M250.00,214.00 L222.46,213.04 L222.77,209.75 Z" fill="#4e32d1"/>
<path d="M250.00,214.00 L222.59,211.12 L223.13,207.86 Z" fill="#552ed0"/>
<path d="M250.00,214.00 L222.86,209.21 L223.63,206.00 Z" fill="#5c2bcf"/>
<path d="M250.00,214.00 L223.26,207.33 L224.25,204.18 Z" fill="#662bcd"/>
<path d="M250.00,214.00 L223.79,205.48 L224.99,202.41 Z" fill="#712acc"/>
<path d="M250.00,214.00 L224.45,203.68 L225.86,200.70 Z" fill="#7a2aca"/>
<path d="M250.00,214.00 L225.23,201.92 L226.85,199.04 Z" fill="#8429c8"/>
<path d="M250.00,214.00 L226.13,200.22 L227.95,197.47 Z" fill="#8f29c7"/>
<path d="M250.00,214.00 L227.15,198.59 L229.16,195.97 Z" fill="#9928c5"/>
<path d="M250.00,214.00 L228.28,197.03 L230.47,194.56 Z" fill="#a227c3"/>
<path d="M250.00,214.00 L229.52,195.56 L231.87,193.24 Z" fill="#a827bc"/>
<path d="M250.00,214.00 L230.86,194.17 L233.36,192.03 Z" fill="#ae27b6"/>
<path d="M250.00,214.00 L232.28,192.89 L234.94,190.92 Z" fill="#b427af"/>
<path d="M250.00,214.00 L233.80,191.70 L236.58,189.93 Z" fill="#ba26a8"/>
<path d="M250.00,214.00 L235.40,190.63 L238.29,189.05 Z" fill="#c026a2"/>
<path d="M250.00,214.00 L237.06,189.67 L240.06,188.29 Z" fill="#c6269b"/>
<path d="M250.00,214.00 L238.79,188.82 L241.88,187.66 Z" fill="#ca258f"/>
<path d="M250.00,214.00 L240.57,188.10 L243.74,187.16 Z" fill="#cd2481"/>
<path d="M250.00,214.00 L242.40,187.51 L245.62,186.79 Z" fill="#d02273"/>
<path d="M250.00,214.00 L244.27,187.04 L247.53,186.55 Z" fill="#d32165"/>
<path d="M250.00,214.00 L246.16,186.71 L249.45,186.45 Z" fill="#d62058"/>
<path d="M250.00,214.00 L248.08,186.51 L251.38,186.47 Z" fill="#d81f4b"/>
</g>
<circle cx="250.0" cy="214.0" r="21.2" fill="url(#whl_rim)"/>
<circle cx="250.0" cy="214.0" r="8.7" fill="#0b0c0e"/>
<circle cx="232.4" cy="253.3" r="3.9" fill="#c2302b"/>
<circle cx="232.4" cy="253.3" r="1.7" fill="#5a1412" opacity="0.8"/>
<circle cx="243.9" cy="253.3" r="3.9" fill="#2c9448"/>
<circle cx="243.9" cy="253.3" r="1.7" fill="#0f4420" opacity="0.8"/>
<circle cx="255.4" cy="253.3" r="3.9" fill="#2a4aac"/>
<circle cx="255.4" cy="253.3" r="1.7" fill="#101f58" opacity="0.8"/>
<circle cx="267.9" cy="253.3" r="3.9" fill="#f1f1f1"/>
<circle cx="267.9" cy="253.3" r="1.7" fill="#8a8a8a" opacity="0.8"/>
<circle cx="233.7" cy="266.6" r="4.7" fill="#7e858c"/>
<circle cx="250" cy="266.6" r="4.7" fill="#7e858c"/>
<circle cx="266" cy="266.6" r="4.7" fill="#7e858c"/>
<circle cx="233.7" cy="279.5" r="4.7" fill="#7e858c"/>
<circle cx="266" cy="279.5" r="4.7" fill="#7e858c"/>
<circle cx="250" cy="279.5" r="4.8" fill="#d23a2c"/>
<path d="M251.20,278.08 A2.1,2.1 0 1 1 248.80,278.08" fill="none" stroke="#5a1410" stroke-width="0.8" stroke-linecap="round"/>
<line x1="250" y1="277.18" x2="250" y2="279.59" stroke="#5a1410" stroke-width="0.8" stroke-linecap="round"/>
<circle cx="241.6" cy="293" r="4.7" fill="#7e858c"/>
<circle cx="257.7" cy="293" r="4.7" fill="#7e858c"/>
<circle cx="231.5" cy="306.9" r="3.7" fill="#7e858c"/>
<circle cx="243.3" cy="306.9" r="3.7" fill="#7e858c"/>
<circle cx="255.3" cy="306.9" r="3.7" fill="#7e858c"/>
<circle cx="267.3" cy="306.9" r="3.7" fill="#7e858c"/>
<circle cx="231.5" cy="318.6" r="3.7" fill="#7e858c"/>
<circle cx="243.3" cy="318.6" r="3.7" fill="#7e858c"/>
<circle cx="255.3" cy="318.6" r="3.7" fill="#7e858c"/>
<circle cx="267.3" cy="318.6" r="3.7" fill="#7e858c"/>
<text x="233.70" y="268.10" font-size="4.2" font-weight="bold" fill="#2d3136" text-anchor="middle" >B-</text>
<text x="250.00" y="268.10" font-size="4.2" font-weight="bold" fill="#2d3136" text-anchor="middle" >W+</text>
<text x="266.00" y="268.10" font-size="4.2" font-weight="bold" fill="#2d3136" text-anchor="middle" >B+</text>
<text x="233.70" y="281.00" font-size="4.2" font-weight="bold" fill="#2d3136" text-anchor="middle" >S-</text>
<text x="266.00" y="281.00" font-size="4.2" font-weight="bold" fill="#2d3136" text-anchor="middle" >S+</text>
<text x="241.60" y="294.50" font-size="4.2" font-weight="bold" fill="#2d3136" text-anchor="middle" >Z1</text>
<text x="257.70" y="294.50" font-size="4.2" font-weight="bold" fill="#2d3136" text-anchor="middle" >Z2</text>
<text x="231.50" y="308.30" font-size="3.8" font-weight="bold" fill="#2d3136" text-anchor="middle" >P1</text>
<text x="243.30" y="308.30" font-size="3.8" font-weight="bold" fill="#2d3136" text-anchor="middle" >P2</text>
<text x="255.30" y="308.30" font-size="3.8" font-weight="bold" fill="#2d3136" text-anchor="middle" >P3</text>
<text x="267.30" y="308.30" font-size="3.8" font-weight="bold" fill="#2d3136" text-anchor="middle" >P4</text>
<text x="231.50" y="320.00" font-size="3.8" font-weight="bold" fill="#2d3136" text-anchor="middle" >S1</text>
<text x="243.30" y="320.00" font-size="3.8" font-weight="bold" fill="#2d3136" text-anchor="middle" >S2</text>
<text x="255.30" y="320.00" font-size="3.8" font-weight="bold" fill="#2d3136" text-anchor="middle" >S3</text>
<text x="267.30" y="320.00" font-size="3.8" font-weight="bold" fill="#2d3136" text-anchor="middle" >S4</text>
</g>
<g id="remote3">
<rect x="321.2" y="174.5" width="61.7" height="170.1" rx="3.5" fill="#1d1d1d"/>
<rect x="329.3" y="185.5" width="45.1" height="12.2" rx="0.8" fill="url(#lcd)"/>
<text x="328.80" y="213.40" font-size="4.6" font-weight="bold" fill="#e8e8e8" text-anchor="middle" >W+</text>
<path d="M374.3,209.8 L378.6,212.5 L374.3,215.2 Z" fill="#f2f2f2"/>
<path d="M325.8,252.6 L330.1,255.3 L325.8,258.0 Z" fill="#f2f2f2"/>
<text x="376.20" y="257.20" font-size="4.8" font-weight="bold" fill="#d8d8d8" text-anchor="middle" >P</text>
<circle cx="351.9" cy="233.8" r="23.1" fill="#0c0c0d"/>
<clipPath id="wc3"><circle cx="351.9" cy="233.8" r="22.2"/></clipPath>
<g clip-path="url(#wc3)" shape-rendering="crispEdges">
<path d="M351.90,233.80 L351.90,204.94 L355.35,205.15 Z" fill="#e02352"/>
<path d="M351.90,233.80 L353.91,205.01 L357.34,205.46 Z" fill="#e02247"/>
<path d="M351.90,233.80 L355.92,205.22 L359.30,205.91 Z" fill="#e0213c"/>
<path d="M351.90,233.80 L357.90,205.57 L361.23,206.49 Z" fill="#e02031"/>
<path d="M351.90,233.80 L359.85,206.06 L363.11,207.21 Z" fill="#e0212d"/>
<path d="M351.90,233.80 L361.77,206.68 L364.94,208.05 Z" fill="#e0232a"/>
<path d="M351.90,233.80 L363.64,207.44 L366.71,209.03 Z" fill="#e02427"/>
<path d="M351.90,233.80 L365.45,208.32 L368.40,210.12 Z" fill="#e12624"/>
<path d="M351.90,233.80 L367.19,209.33 L370.01,211.33 Z" fill="#e12722"/>
<path d="M351.90,233.80 L368.86,210.45 L371.53,212.65 Z" fill="#e1291f"/>
<path d="M351.90,233.80 L370.45,211.69 L372.96,214.07 Z" fill="#e23920"/>
<path d="M351.90,233.80 L371.95,213.04 L374.29,215.58 Z" fill="#e25223"/>
<path d="M351.90,233.80 L373.35,214.49 L375.50,217.19 Z" fill="#e26c26"/>
<path d="M351.90,233.80 L374.64,216.03 L376.60,218.88 Z" fill="#e2862a"/>
<path d="M351.90,233.80 L375.83,217.66 L377.58,220.64 Z" fill="#dd9f2c"/>
<path d="M351.90,233.80 L376.89,219.37 L378.44,222.46 Z" fill="#d9b92e"/>
<path d="M351.90,233.80 L377.84,221.15 L379.17,224.34 Z" fill="#cdcb30"/>
<path d="M351.90,233.80 L378.66,222.99 L379.76,226.26 Z" fill="#b2c932"/>
<path d="M351.90,233.80 L379.35,224.88 L380.22,228.23 Z" fill="#97c635"/>
<path d="M351.90,233.80 L379.90,226.82 L380.54,230.22 Z" fill="#7cc437"/>
<path d="M351.90,233.80 L380.32,228.79 L380.72,232.22 Z" fill="#61c239"/>
<path d="M351.90,233.80 L380.60,230.78 L380.76,234.24 Z" fill="#58c13b"/>
<path d="M351.90,233.80 L380.74,232.79 L380.66,236.25 Z" fill="#54bf3e"/>
<path d="M351.90,233.80 L380.74,234.81 L380.42,238.25 Z" fill="#50be40"/>
<path d="M351.90,233.80 L380.60,236.82 L380.04,240.23 Z" fill="#4cbd42"/>
<path d="M351.90,233.80 L380.32,238.81 L379.52,242.17 Z" fill="#49bc44"/>
<path d="M351.90,233.80 L379.90,240.78 L378.87,244.08 Z" fill="#45ba46"/>
<path d="M351.90,233.80 L379.35,242.72 L378.08,245.94 Z" fill="#41b949"/>
<path d="M351.90,233.80 L378.66,244.61 L377.17,247.73 Z" fill="#3db84b"/>
<path d="M351.90,233.80 L377.84,246.45 L376.14,249.46 Z" fill="#48bb51"/>
<path d="M351.90,233.80 L376.89,248.23 L374.99,251.11 Z" fill="#5bc058"/>
<path d="M351.90,233.80 L375.83,249.94 L373.73,252.68 Z" fill="#6dc560"/>
<path d="M351.90,233.80 L374.64,251.57 L372.36,254.16 Z" fill="#80ca67"/>
<path d="M351.90,233.80 L373.35,253.11 L370.89,255.54 Z" fill="#93ce6f"/>
<path d="M351.90,233.80 L371.95,254.56 L369.32,256.81 Z" fill="#acd177"/>
<path d="M351.90,233.80 L370.45,255.91 L367.68,257.97 Z" fill="#c5d47f"/>
<path d="M351.90,233.80 L368.86,257.15 L365.95,259.01 Z" fill="#ded686"/>
<path d="M351.90,233.80 L367.19,258.27 L364.16,259.93 Z" fill="#ead58a"/>
<path d="M351.90,233.80 L365.45,259.28 L362.31,260.72 Z" fill="#eed08a"/>
<path d="M351.90,233.80 L363.64,260.16 L360.40,261.38 Z" fill="#f2cc8b"/>
<path d="M351.90,233.80 L361.77,260.92 L358.46,261.90 Z" fill="#f6c88c"/>
<path d="M351.90,233.80 L359.85,261.54 L356.48,262.29 Z" fill="#f8d2a0"/>
<path d="M351.90,233.80 L357.90,262.03 L354.48,262.54 Z" fill="#fadcb5"/>
<path d="M351.90,233.80 L355.92,262.38 L352.47,262.65 Z" fill="#fce6ca"/>
<path d="M351.90,233.80 L353.91,262.59 L350.46,262.62 Z" fill="#fef0df"/>
<path d="M351.90,233.80 L351.90,262.66 L348.45,262.45 Z" fill="#fff7ec"/>
<path d="M351.90,233.80 L349.89,262.59 L346.46,262.14 Z" fill="#fef9f2"/>
<path d="M351.90,233.80 L347.88,262.38 L344.50,261.69 Z" fill="#fffcf8"/>
<path d="M351.90,233.80 L345.90,262.03 L342.57,261.11 Z" fill="#fffefe"/>
<path d="M351.90,233.80 L343.95,261.54 L340.69,260.39 Z" fill="#f5fbfd"/>
<path d="M351.90,233.80 L342.03,260.92 L338.86,259.55 Z" fill="#eaf7fb"/>
<path d="M351.90,233.80 L340.16,260.16 L337.09,258.57 Z" fill="#e0f4f9"/>
<path d="M351.90,233.80 L338.35,259.28 L335.40,257.48 Z" fill="#d5f0f7"/>
<path d="M351.90,233.80 L336.61,258.27 L333.79,256.27 Z" fill="#c5eaf5"/>
<path d="M351.90,233.80 L334.94,257.15 L332.27,254.95 Z" fill="#ade3f2"/>
<path d="M351.90,233.80 L333.35,255.91 L330.84,253.53 Z" fill="#94dbf0"/>
<path d="M351.90,233.80 L331.85,254.56 L329.51,252.02 Z" fill="#7cd3ee"/>
<path d="M351.90,233.80 L330.45,253.11 L328.30,250.41 Z" fill="#64cbec"/>
<path d="M351.90,233.80 L329.16,251.57 L327.20,248.72 Z" fill="#4cc4ea"/>
<path d="M351.90,233.80 L327.97,249.94 L326.22,246.96 Z" fill="#45b8e8"/>
<path d="M351.90,233.80 L326.91,248.23 L325.36,245.14 Z" fill="#3fade6"/>
<path d="M351.90,233.80 L325.96,246.45 L324.63,243.26 Z" fill="#39a1e4"/>
<path d="M351.90,233.80 L325.14,244.61 L324.04,241.34 Z" fill="#3296e2"/>
<path d="M351.90,233.80 L324.45,242.72 L323.58,239.37 Z" fill="#2c8ae0"/>
<path d="M351.90,233.80 L323.90,240.78 L323.26,237.38 Z" fill="#2a7ede"/>
<path d="M351.90,233.80 L323.48,238.81 L323.08,235.38 Z" fill="#2a73db"/>
<path d="M351.90,233.80 L323.20,236.82 L323.04,233.36 Z" fill="#2a67d9"/>
<path d="M351.90,233.80 L323.06,234.81 L323.14,231.35 Z" fill="#2a5bd6"/>
<path d="M351.90,233.80 L323.06,232.79 L323.38,229.35 Z" fill="#2a4fd4"/>
<path d="M351.90,233.80 L323.20,230.78 L323.76,227.37 Z" fill="#2a44d1"/>
<path d="M351.90,233.80 L323.48,228.79 L324.28,225.43 Z" fill="#2d3bcf"/>
<path d="M351.90,233.80 L323.90,226.82 L324.93,223.52 Z" fill="#3a38ce"/>
<path d="M351.90,233.80 L324.45,224.88 L325.72,221.66 Z" fill="#4736cd"/>
<path d="M351.90,233.80 L325.14,222.99 L326.63,219.87 Z" fill="#5333cb"/>
<path d="M351.90,233.80 L325.96,221.15 L327.66,218.14 Z" fill="#6031ca"/>
<path d="M351.90,233.80 L326.91,219.37 L328.81,216.49 Z" fill="#6d2ec9"/>
<path d="M351.90,233.80 L327.97,217.66 L330.07,214.92 Z" fill="#7a2cc8"/>
<path d="M351.90,233.80 L329.16,216.03 L331.44,213.44 Z" fill="#852bc4"/>
<path d="M351.90,233.80 L330.45,214.49 L332.91,212.06 Z" fill="#902ac1"/>
<path d="M351.90,233.80 L331.85,213.04 L334.48,210.79 Z" fill="#9b2abe"/>
<path d="M351.90,233.80 L333.35,211.69 L336.12,209.63 Z" fill="#a629bb"/>
<path d="M351.90,233.80 L334.94,210.45 L337.85,208.59 Z" fill="#b128b8"/>
<path d="M351.90,233.80 L336.61,209.33 L339.64,207.67 Z" fill="#bc28b4"/>
<path d="M351.90,233.80 L338.35,208.32 L341.49,206.88 Z" fill="#c327ab"/>
<path d="M351.90,233.80 L340.16,207.44 L343.40,206.22 Z" fill="#c7279e"/>
<path d="M351.90,233.80 L342.03,206.68 L345.34,205.70 Z" fill="#cb2691"/>
<path d="M351.90,233.80 L343.95,206.06 L347.32,205.31 Z" fill="#d02584"/>
<path d="M351.90,233.80 L345.90,205.57 L349.32,205.06 Z" fill="#d42577"/>
<path d="M351.90,233.80 L347.88,205.22 L351.33,204.95 Z" fill="#d9246b"/>
<path d="M351.90,233.80 L349.89,205.01 L353.34,204.98 Z" fill="#dd245e"/>
</g>
<circle cx="351.9" cy="233.8" r="22.2" fill="url(#whl_shade3)"/>
<circle cx="351.9" cy="233.8" r="8.0" fill="#121214"/>
<path d="M353.39,231.97 A2.6,2.6 0 1 1 350.41,231.97" fill="none" stroke="#e0503a" stroke-width="0.9" stroke-linecap="round"/>
<line x1="351.9" y1="230.85" x2="351.9" y2="233.84" stroke="#e0503a" stroke-width="0.9" stroke-linecap="round"/>
<text x="352.00" y="267.20" font-size="3.4" font-weight="bold" fill="#bdbdbd" text-anchor="middle" >zone</text>
<text x="352.00" y="312.20" font-size="3.4" font-weight="bold" fill="#bdbdbd" text-anchor="middle" >scene</text>
<rect x="322.8" y="269.2" width="13.8" height="15" rx="1" fill="#242424"/>
<text x="329.70" y="278.50" font-size="5.0" font-weight="bold" fill="#c4c4c4" text-anchor="middle" >1</text>
<rect x="337.6" y="269.2" width="13.8" height="15" rx="1" fill="#242424"/>
<text x="344.50" y="278.50" font-size="5.0" font-weight="bold" fill="#c4c4c4" text-anchor="middle" >2</text>
<rect x="352.1" y="269.2" width="13.8" height="15" rx="1" fill="#242424"/>
<text x="359.00" y="278.50" font-size="5.0" font-weight="bold" fill="#c4c4c4" text-anchor="middle" >3</text>
<rect x="366.9" y="269.2" width="13.8" height="15" rx="1" fill="#242424"/>
<text x="373.80" y="278.50" font-size="5.0" font-weight="bold" fill="#c4c4c4" text-anchor="middle" >4</text>
<rect x="322.8" y="292.0" width="13.8" height="15" rx="1" fill="#242424"/>
<text x="329.70" y="301.30" font-size="4.8" font-weight="bold" fill="#c4c4c4" text-anchor="middle" >R</text>
<rect x="337.6" y="292.0" width="13.8" height="15" rx="1" fill="#242424"/>
<text x="344.50" y="301.30" font-size="4.8" font-weight="bold" fill="#c4c4c4" text-anchor="middle" >G</text>
<rect x="352.1" y="292.0" width="13.8" height="15" rx="1" fill="#242424"/>
<text x="359.00" y="301.30" font-size="4.8" font-weight="bold" fill="#c4c4c4" text-anchor="middle" >B</text>
<rect x="366.9" y="292.0" width="13.8" height="15" rx="1" fill="#242424"/>
<text x="373.80" y="301.30" font-size="4.8" font-weight="bold" fill="#c4c4c4" text-anchor="middle" >W</text>
<rect x="322.8" y="314.3" width="13.8" height="15" rx="1" fill="#242424"/>
<text x="329.70" y="323.50" font-size="4.3" font-weight="bold" fill="#c4c4c4" text-anchor="middle" >S1</text>
<rect x="337.6" y="314.3" width="13.8" height="15" rx="1" fill="#242424"/>
<text x="344.50" y="323.50" font-size="4.3" font-weight="bold" fill="#c4c4c4" text-anchor="middle" >S2</text>
<rect x="352.1" y="314.3" width="13.8" height="15" rx="1" fill="#242424"/>
<text x="359.00" y="323.50" font-size="4.3" font-weight="bold" fill="#c4c4c4" text-anchor="middle" >S3</text>
<rect x="366.9" y="314.3" width="13.8" height="15" rx="1" fill="#242424"/>
<text x="373.80" y="323.50" font-size="4.3" font-weight="bold" fill="#c4c4c4" text-anchor="middle" >S4</text>
</g>
<g id="remote4">
<rect x="435.7" y="182" width="54.7" height="161.1" rx="4.5" fill="#1c1c1c"/>
<circle cx="463.0" cy="210.4" r="18.6" fill="#0a0a0b"/>
<clipPath id="wc4"><circle cx="463.0" cy="210.4" r="17.7"/></clipPath>
<g clip-path="url(#wc4)" shape-rendering="crispEdges">
<path d="M463.00,210.40 L463.00,187.39 L465.75,187.55 Z" fill="#de201c"/>
<path d="M463.00,210.40 L464.61,187.45 L467.34,187.80 Z" fill="#de241c"/>
<path d="M463.00,210.40 L466.20,187.61 L468.90,188.16 Z" fill="#de271c"/>
<path d="M463.00,210.40 L467.78,187.89 L470.44,188.63 Z" fill="#df2b1c"/>
<path d="M463.00,210.40 L469.34,188.28 L471.94,189.20 Z" fill="#df2e1c"/>
<path d="M463.00,210.40 L470.87,188.78 L473.40,189.87 Z" fill="#e0331c"/>
<path d="M463.00,210.40 L472.36,189.38 L474.80,190.65 Z" fill="#e0411c"/>
<path d="M463.00,210.40 L473.80,190.08 L476.15,191.52 Z" fill="#e04e1c"/>
<path d="M463.00,210.40 L475.19,190.89 L477.44,192.48 Z" fill="#e15c1d"/>
<path d="M463.00,210.40 L476.52,191.78 L478.65,193.53 Z" fill="#e16a1d"/>
<path d="M463.00,210.40 L477.79,192.77 L479.79,194.67 Z" fill="#e17a1f"/>
<path d="M463.00,210.40 L478.98,193.85 L480.85,195.88 Z" fill="#df8c20"/>
<path d="M463.00,210.40 L480.10,195.00 L481.82,197.16 Z" fill="#de9e22"/>
<path d="M463.00,210.40 L481.13,196.23 L482.70,198.50 Z" fill="#ddb024"/>
<path d="M463.00,210.40 L482.08,197.53 L483.48,199.91 Z" fill="#dbc026"/>
<path d="M463.00,210.40 L482.93,198.90 L484.16,201.36 Z" fill="#d8c727"/>
<path d="M463.00,210.40 L483.68,200.31 L484.74,202.86 Z" fill="#d4ce28"/>
<path d="M463.00,210.40 L484.33,201.78 L485.21,204.39 Z" fill="#d0d429"/>
<path d="M463.00,210.40 L484.88,203.29 L485.58,205.96 Z" fill="#c8d72a"/>
<path d="M463.00,210.40 L485.33,204.83 L485.83,207.54 Z" fill="#bbd62a"/>
<path d="M463.00,210.40 L485.66,206.40 L485.98,209.14 Z" fill="#afd42b"/>
<path d="M463.00,210.40 L485.88,207.99 L486.01,210.75 Z" fill="#a2d32c"/>
<path d="M463.00,210.40 L486.00,209.60 L485.93,212.35 Z" fill="#95d22c"/>
<path d="M463.00,210.40 L486.00,211.20 L485.74,213.95 Z" fill="#89d12d"/>
<path d="M463.00,210.40 L485.88,212.81 L485.43,215.52 Z" fill="#7dcf2e"/>
<path d="M463.00,210.40 L485.66,214.40 L485.02,217.08 Z" fill="#73cd31"/>
<path d="M463.00,210.40 L485.33,215.97 L484.50,218.60 Z" fill="#69cb35"/>
<path d="M463.00,210.40 L484.88,217.51 L483.88,220.08 Z" fill="#5ec838"/>
<path d="M463.00,210.40 L484.33,219.02 L483.15,221.51 Z" fill="#55c63c"/>
<path d="M463.00,210.40 L483.68,220.49 L482.33,222.89 Z" fill="#4ac43f"/>
<path d="M463.00,210.40 L482.93,221.91 L481.41,224.20 Z" fill="#40c242"/>
<path d="M463.00,210.40 L482.08,223.27 L480.40,225.45 Z" fill="#37c046"/>
<path d="M463.00,210.40 L481.13,224.57 L479.31,226.63 Z" fill="#36c04f"/>
<path d="M463.00,210.40 L480.10,225.80 L478.14,227.73 Z" fill="#35c158"/>
<path d="M463.00,210.40 L478.98,226.95 L476.89,228.74 Z" fill="#34c261"/>
<path d="M463.00,210.40 L477.79,228.03 L475.58,229.67 Z" fill="#33c36a"/>
<path d="M463.00,210.40 L476.52,229.02 L474.20,230.50 Z" fill="#32c473"/>
<path d="M463.00,210.40 L475.19,229.91 L472.77,231.23 Z" fill="#31c57c"/>
<path d="M463.00,210.40 L473.80,230.72 L471.30,231.86 Z" fill="#30c685"/>
<path d="M463.00,210.40 L472.36,231.42 L469.78,232.39 Z" fill="#30c78f"/>
<path d="M463.00,210.40 L470.87,232.02 L468.23,232.81 Z" fill="#30c799"/>
<path d="M463.00,210.40 L469.34,232.52 L466.65,233.12 Z" fill="#30c6a4"/>
<path d="M463.00,210.40 L467.78,232.91 L465.06,233.32 Z" fill="#30c6af"/>
<path d="M463.00,210.40 L466.20,233.19 L463.46,233.41 Z" fill="#30c5ba"/>
<path d="M463.00,210.40 L464.61,233.35 L461.85,233.38 Z" fill="#30c4c4"/>
<path d="M463.00,210.40 L463.00,233.41 L460.25,233.25 Z" fill="#30c4cf"/>
<path d="M463.00,210.40 L461.39,233.35 L458.66,233.00 Z" fill="#2fbed5"/>
<path d="M463.00,210.40 L459.80,233.19 L457.10,232.64 Z" fill="#2eb5d7"/>
<path d="M463.00,210.40 L458.22,232.91 L455.56,232.17 Z" fill="#2dacd8"/>
<path d="M463.00,210.40 L456.66,232.52 L454.06,231.60 Z" fill="#2ca2da"/>
<path d="M463.00,210.40 L455.13,232.02 L452.60,230.93 Z" fill="#2b99dc"/>
<path d="M463.00,210.40 L453.64,231.42 L451.20,230.15 Z" fill="#2a90de"/>
<path d="M463.00,210.40 L452.20,230.72 L449.85,229.28 Z" fill="#2987df"/>
<path d="M463.00,210.40 L450.81,229.91 L448.56,228.32 Z" fill="#297dde"/>
<path d="M463.00,210.40 L449.48,229.02 L447.35,227.27 Z" fill="#2974dd"/>
<path d="M463.00,210.40 L448.21,228.03 L446.21,226.13 Z" fill="#296adc"/>
<path d="M463.00,210.40 L447.02,226.95 L445.15,224.92 Z" fill="#2961db"/>
<path d="M463.00,210.40 L445.90,225.80 L444.18,223.64 Z" fill="#2957da"/>
<path d="M463.00,210.40 L444.87,224.57 L443.30,222.30 Z" fill="#294ed9"/>
<path d="M463.00,210.40 L443.92,223.27 L442.52,220.89 Z" fill="#2945d7"/>
<path d="M463.00,210.40 L443.07,221.91 L441.84,219.44 Z" fill="#3042d6"/>
<path d="M463.00,210.40 L442.32,220.49 L441.26,217.94 Z" fill="#373ed5"/>
<path d="M463.00,210.40 L441.67,219.02 L440.79,216.41 Z" fill="#3e3ad4"/>
<path d="M463.00,210.40 L441.12,217.51 L440.42,214.84 Z" fill="#4437d3"/>
<path d="M463.00,210.40 L440.67,215.97 L440.17,213.26 Z" fill="#4b33d2"/>
<path d="M463.00,210.40 L440.34,214.40 L440.02,211.66 Z" fill="#522fd1"/>
<path d="M463.00,210.40 L440.12,212.81 L439.99,210.05 Z" fill="#592cd0"/>
<path d="M463.00,210.40 L440.00,211.20 L440.07,208.45 Z" fill="#632bce"/>
<path d="M463.00,210.40 L440.00,209.60 L440.26,206.85 Z" fill="#6c2acc"/>
<path d="M463.00,210.40 L440.12,207.99 L440.57,205.28 Z" fill="#772acb"/>
<path d="M463.00,210.40 L440.34,206.40 L440.98,203.72 Z" fill="#8129c9"/>
<path d="M463.00,210.40 L440.67,204.83 L441.50,202.20 Z" fill="#8b29c7"/>
<path d="M463.00,210.40 L441.12,203.29 L442.12,200.72 Z" fill="#9528c6"/>
<path d="M463.00,210.40 L441.67,201.78 L442.85,199.29 Z" fill="#9f28c4"/>
<path d="M463.00,210.40 L442.32,200.31 L443.67,197.91 Z" fill="#a627bf"/>
<path d="M463.00,210.40 L443.07,198.90 L444.59,196.60 Z" fill="#ac27b8"/>
<path d="M463.00,210.40 L443.92,197.53 L445.60,195.35 Z" fill="#b227b2"/>
<path d="M463.00,210.40 L444.87,196.23 L446.69,194.17 Z" fill="#b826ab"/>
<path d="M463.00,210.40 L445.90,195.00 L447.86,193.07 Z" fill="#be26a4"/>
<path d="M463.00,210.40 L447.02,193.85 L449.11,192.06 Z" fill="#c4269e"/>
<path d="M463.00,210.40 L448.21,192.77 L450.42,191.13 Z" fill="#c92594"/>
<path d="M463.00,210.40 L449.48,191.78 L451.80,190.30 Z" fill="#cc2486"/>
<path d="M463.00,210.40 L450.81,190.89 L453.23,189.57 Z" fill="#cf2379"/>
<path d="M463.00,210.40 L452.20,190.08 L454.70,188.94 Z" fill="#d2226b"/>
<path d="M463.00,210.40 L453.64,189.38 L456.22,188.41 Z" fill="#d5215d"/>
<path d="M463.00,210.40 L455.13,188.78 L457.77,187.99 Z" fill="#d82050"/>
<path d="M463.00,210.40 L456.66,188.28 L459.35,187.68 Z" fill="#d91f44"/>
<path d="M463.00,210.40 L458.22,187.89 L460.94,187.48 Z" fill="#da1f39"/>
<path d="M463.00,210.40 L459.80,187.61 L462.54,187.39 Z" fill="#dc1f2e"/>
<path d="M463.00,210.40 L461.39,187.45 L464.15,187.42 Z" fill="#dd1f22"/>
</g>
<circle cx="463.0" cy="210.4" r="17.7" fill="url(#whl_shade)"/>
<circle cx="463.0" cy="210.4" r="5.6" fill="#0d0d0f"/>
<text x="463.00" y="212.50" font-size="5.6" font-weight="bold" fill="#f4f4f4" text-anchor="middle" >W</text>
<rect x="457.8" y="237.6" width="10.4" height="9.2" rx="3.4" fill="#222224"/>
<rect x="444.4" y="251.1" width="10.4" height="9.2" rx="3.4" fill="#222224"/>
<rect x="457.8" y="251.1" width="10.4" height="9.2" rx="3.4" fill="#222224"/>
<rect x="470.8" y="251.1" width="10.4" height="9.2" rx="3.4" fill="#222224"/>
<rect x="457.8" y="264.1" width="10.4" height="9.2" rx="3.4" fill="#222224"/>
<circle cx="463" cy="242.2" r="1.7" fill="none" stroke="#f0f0f0" stroke-width="0.8"/>
<circle cx="463" cy="268.7" r="1.7" fill="none" stroke="#f0f0f0" stroke-width="0.8"/>
<path d="M464.15,254.36 A2.0,2.0 0 1 1 461.85,254.36" fill="none" stroke="#f0f0f0" stroke-width="0.8" stroke-linecap="round"/>
<line x1="463" y1="253.50" x2="463" y2="255.80" stroke="#f0f0f0" stroke-width="0.8" stroke-linecap="round"/>
<path d="M449.4,253.6 L446.4,255.7 L449.4,257.8 Z M452.6,253.6 L449.6,255.7 L452.6,257.8 Z" fill="#f0f0f0"/>
<path d="M476.2,253.6 L479.2,255.7 L476.2,257.8 Z M473.0,253.6 L476.0,255.7 L473.0,257.8 Z" fill="#f0f0f0"/>
<rect x="443.4" y="281.1" width="11.2" height="9.2" rx="3.4" fill="#222224"/>
<rect x="457.4" y="281.1" width="11.2" height="9.2" rx="3.4" fill="#222224"/>
<rect x="471.4" y="281.1" width="11.2" height="9.2" rx="3.4" fill="#222224"/>
<rect x="443.4" y="295.6" width="11.2" height="9.2" rx="3.4" fill="#222224"/>
<rect x="457.4" y="295.6" width="11.2" height="9.2" rx="3.4" fill="#222224"/>
<rect x="471.4" y="295.6" width="11.2" height="9.2" rx="3.4" fill="#222224"/>
<rect x="443.4" y="309.8" width="11.2" height="9.2" rx="3.4" fill="#222224"/>
<rect x="457.4" y="309.8" width="11.2" height="9.2" rx="3.4" fill="#222224"/>
<rect x="471.4" y="309.8" width="11.2" height="9.2" rx="3.4" fill="#222224"/>
<rect x="443.4" y="324.3" width="11.2" height="9.2" rx="3.4" fill="#222224"/>
<rect x="457.4" y="324.3" width="11.2" height="9.2" rx="3.4" fill="#222224"/>
<rect x="471.4" y="324.3" width="11.2" height="9.2" rx="3.4" fill="#222224"/>
<path d="M446.6,285.7 L449.4,283.7 V285 H451.6 V286.4 H449.4 V287.7 Z" fill="#f0f0f0"/>
<text x="463.00" y="287.60" font-size="5.0" font-weight="bold" fill="#f0f0f0" text-anchor="middle" >S</text>
<path d="M475.4,283.6 L479.2,285.7 L475.4,287.8 Z" fill="none" stroke="#f0f0f0" stroke-width="0.8"/>
<text x="449.00" y="302.10" font-size="5.2" font-weight="bold" fill="#f0f0f0" text-anchor="middle" >R</text>
<text x="463.00" y="302.10" font-size="5.2" font-weight="bold" fill="#f0f0f0" text-anchor="middle" >G</text>
<text x="477.00" y="302.10" font-size="5.2" font-weight="bold" fill="#f0f0f0" text-anchor="middle" >B</text>
<text x="449.00" y="316.30" font-size="5.2" font-weight="bold" fill="#f0f0f0" text-anchor="middle" >1</text>
<text x="463.00" y="316.30" font-size="5.2" font-weight="bold" fill="#f0f0f0" text-anchor="middle" >2</text>
<text x="477.00" y="316.30" font-size="5.2" font-weight="bold" fill="#f0f0f0" text-anchor="middle" >3</text>
<text x="449.00" y="330.80" font-size="5.2" font-weight="bold" fill="#f0f0f0" text-anchor="middle" >4</text>
<text x="463.00" y="330.80" font-size="5.2" font-weight="bold" fill="#f0f0f0" text-anchor="middle" >5</text>
<text x="477.00" y="330.80" font-size="5.2" font-weight="bold" fill="#f0f0f0" text-anchor="middle" >6</text>
</g>
</g>
<defs>
<radialGradient id="pnl" cx="0.5" cy="0.5" r="0.75"><stop offset="0" stop-color="#f5f5f5"/><stop offset="0.7" stop-color="#efefef"/><stop offset="1" stop-color="#e4e4e4"/></radialGradient>
<linearGradient id="rarc1" gradientUnits="userSpaceOnUse" x1="87" x2="155" y1="0" y2="0"><stop offset="0" stop-color="#8a4ac8"/><stop offset="0.12" stop-color="#7a50d0"/><stop offset="0.28" stop-color="#40b0d8"/><stop offset="0.42" stop-color="#40d090"/><stop offset="0.56" stop-color="#a0dc50"/><stop offset="0.72" stop-color="#e8dc70"/><stop offset="0.86" stop-color="#d070b8"/><stop offset="1" stop-color="#5a40c8"/></linearGradient>
<linearGradient id="rarc2" gradientUnits="userSpaceOnUse" x1="87" x2="155" y1="0" y2="0"><stop offset="0" stop-color="#c070c8"/><stop offset="0.15" stop-color="#5ac060"/><stop offset="0.3" stop-color="#50c8c0"/><stop offset="0.5" stop-color="#70d870"/><stop offset="0.7" stop-color="#d8e060"/><stop offset="0.85" stop-color="#b060c8"/><stop offset="1" stop-color="#8a50d0"/></linearGradient>
<linearGradient id="rarc3" gradientUnits="userSpaceOnUse" x1="87" x2="155" y1="0" y2="0"><stop offset="0" stop-color="#4aa850"/><stop offset="0.15" stop-color="#9a60c8"/><stop offset="0.35" stop-color="#60b8e0"/><stop offset="0.55" stop-color="#80d880"/><stop offset="0.75" stop-color="#e0c0a0"/><stop offset="0.9" stop-color="#7050c8"/><stop offset="1" stop-color="#c080c0"/></linearGradient>
<radialGradient id="rglow"><stop offset="0" stop-color="#f2f2f2" stop-opacity="1"/><stop offset="0.72" stop-color="#eeeeee" stop-opacity="0.95"/><stop offset="1" stop-color="#e6e6e6" stop-opacity="0"/></radialGradient>
<radialGradient id="uscen"><stop offset="0" stop-color="#fbfbfb"/><stop offset="0.8" stop-color="#f6f6f4"/><stop offset="1" stop-color="#ebebe6"/></radialGradient>
<linearGradient id="kpf" x1="0" y1="0" x2="1" y2="1"><stop offset="0" stop-color="#f3f1ef"/><stop offset="0.12" stop-color="#f8f8f8"/><stop offset="0.6" stop-color="#f3f3f5"/><stop offset="1" stop-color="#e4e4e8"/></linearGradient>
<linearGradient id="kpi" x1="0" y1="0" x2="1" y2="1"><stop offset="0" stop-color="#fbfbfb"/><stop offset="0.6" stop-color="#f4f4f6"/><stop offset="1" stop-color="#ebebef"/></linearGradient>
<linearGradient id="pnl_rot" x1="0" y1="0" x2="1" y2="0"><stop offset="0" stop-color="#d5d5d6"/><stop offset="0.5" stop-color="#e0e0e1"/><stop offset="1" stop-color="#e9e8e9"/></linearGradient>
</defs>
<g filter="url(#soft)">
<g id="rotary">
<rect x="76.1" y="444.4" width="89.6" height="90.3" rx="1" fill="url(#pnl_rot)"/>
<rect x="76.1" y="444.4" width="89.6" height="1.8" fill="#cbcbcb"/>
<rect x="76.1" y="446.2" width="89.6" height="1.6" fill="#e6e6e6" opacity="0.8"/>
<rect x="160.6" y="446.2" width="5.1" height="88.5" fill="#efefef"/>
<rect x="76.1" y="532.7" width="89.6" height="2.0" fill="#dcdcdc"/>
<circle cx="120.8" cy="488.6" r="30.5" fill="url(#rglow)"/>
<path d="M102.23,516.12 A33.2,33.2 0 1 1 141.69,514.40" fill="none" stroke="url(#rarc1)" stroke-width="0.9" stroke-linecap="round"/>
<path d="M102.91,515.13 A32.0,32.0 0 1 1 140.94,513.47" fill="none" stroke="url(#rarc2)" stroke-width="0.8" stroke-linecap="round"/>
<path d="M103.52,514.22 A30.9,30.9 0 1 1 140.25,512.61" fill="none" stroke="url(#rarc3)" stroke-width="0.7" stroke-linecap="round"/>
<path d="M141.37,513.11 A32,32 0 0 1 135.82,516.85" fill="none" stroke="#a6a6aa" stroke-width="1.6" stroke-linecap="round"/>
<circle cx="121.6" cy="490.8" r="22.2" fill="#9a9a9a" opacity="0.35"/>
<circle cx="120.8" cy="489.40000000000003" r="21.2" fill="#cfcfcf"/>
<clipPath id="wc5"><circle cx="120.8" cy="489.40000000000003" r="20.3"/></clipPath>
<g clip-path="url(#wc5)" shape-rendering="crispEdges">
<path d="M120.80,489.40 L120.80,463.01 L123.50,463.15 Z" fill="#909090"/>
<path d="M120.80,489.40 L122.18,463.05 L124.87,463.33 Z" fill="#9d9d9d"/>
<path d="M120.80,489.40 L123.56,463.15 L126.23,463.57 Z" fill="#aaaaaa"/>
<path d="M120.80,489.40 L124.93,463.33 L127.57,463.89 Z" fill="#b7b7b7"/>
<path d="M120.80,489.40 L126.29,463.59 L128.90,464.28 Z" fill="#c4c4c4"/>
<path d="M120.80,489.40 L127.63,463.91 L130.20,464.74 Z" fill="#d1d1d1"/>
<path d="M120.80,489.40 L128.95,464.30 L131.48,465.27 Z" fill="#d9d9d9"/>
<path d="M120.80,489.40 L130.26,464.76 L132.73,465.86 Z" fill="#dbdbdb"/>
<path d="M120.80,489.40 L131.53,465.29 L133.94,466.51 Z" fill="#dddddd"/>
<path d="M120.80,489.40 L132.78,465.89 L135.12,467.23 Z" fill="#e0e0e0"/>
<path d="M120.80,489.40 L134.00,466.55 L136.26,468.01 Z" fill="#e2e2e2"/>
<path d="M120.80,489.40 L135.17,467.27 L137.36,468.85 Z" fill="#e5e5e5"/>
<path d="M120.80,489.40 L136.31,468.05 L138.41,469.75 Z" fill="#e7e7e7"/>
<path d="M120.80,489.40 L137.41,468.89 L139.42,470.70 Z" fill="#e9e9e9"/>
<path d="M120.80,489.40 L138.46,469.79 L140.37,471.70 Z" fill="#ebebeb"/>
<path d="M120.80,489.40 L139.46,470.74 L141.27,472.74 Z" fill="#e5e5e5"/>
<path d="M120.80,489.40 L140.41,471.74 L142.11,473.84 Z" fill="#dedede"/>
<path d="M120.80,489.40 L141.31,472.79 L142.90,474.97 Z" fill="#d8d8d8"/>
<path d="M120.80,489.40 L142.15,473.89 L143.62,476.15 Z" fill="#d2d2d2"/>
<path d="M120.80,489.40 L142.93,475.03 L144.29,477.36 Z" fill="#cccccc"/>
<path d="M120.80,489.40 L143.65,476.21 L144.88,478.61 Z" fill="#c5c5c5"/>
<path d="M120.80,489.40 L144.31,477.42 L145.41,479.88 Z" fill="#bfbfbf"/>
<path d="M120.80,489.40 L144.91,478.67 L145.88,481.19 Z" fill="#b9b9b9"/>
<path d="M120.80,489.40 L145.44,479.94 L146.27,482.51 Z" fill="#b3b3b3"/>
<path d="M120.80,489.40 L145.90,481.25 L146.60,483.85 Z" fill="#acacac"/>
<path d="M120.80,489.40 L146.29,482.57 L146.86,485.21 Z" fill="#a6a6a6"/>
<path d="M120.80,489.40 L146.61,483.91 L147.04,486.58 Z" fill="#9f9f9f"/>
<path d="M120.80,489.40 L146.87,485.27 L147.15,487.96 Z" fill="#999999"/>
<path d="M120.80,489.40 L147.05,486.64 L147.19,489.34 Z" fill="#939393"/>
<path d="M120.80,489.40 L147.15,488.02 L147.16,490.72 Z" fill="#8c8c8c"/>
<path d="M120.80,489.40 L147.19,489.40 L147.05,492.10 Z" fill="#868686"/>
<path d="M120.80,489.40 L147.15,490.78 L146.87,493.47 Z" fill="#7f7f7f"/>
<path d="M120.80,489.40 L147.05,492.16 L146.63,494.83 Z" fill="#797979"/>
<path d="M120.80,489.40 L146.87,493.53 L146.31,496.17 Z" fill="#6f6f6f"/>
<path d="M120.80,489.40 L146.61,494.89 L145.92,497.50 Z" fill="#656565"/>
<path d="M120.80,489.40 L146.29,496.23 L145.46,498.80 Z" fill="#5b5b5b"/>
<path d="M120.80,489.40 L145.90,497.55 L144.93,500.08 Z" fill="#515151"/>
<path d="M120.80,489.40 L145.44,498.86 L144.34,501.33 Z" fill="#474747"/>
<path d="M120.80,489.40 L144.91,500.13 L143.69,502.54 Z" fill="#3d3d3d"/>
<path d="M120.80,489.40 L144.31,501.38 L142.97,503.72 Z" fill="#333333"/>
<path d="M120.80,489.40 L143.65,502.60 L142.19,504.86 Z" fill="#313131"/>
<path d="M120.80,489.40 L142.93,503.77 L141.35,505.96 Z" fill="#2f2f2f"/>
<path d="M120.80,489.40 L142.15,504.91 L140.45,507.01 Z" fill="#2d2d2d"/>
<path d="M120.80,489.40 L141.31,506.01 L139.50,508.02 Z" fill="#2b2b2b"/>
<path d="M120.80,489.40 L140.41,507.06 L138.50,508.97 Z" fill="#292929"/>
<path d="M120.80,489.40 L139.46,508.06 L137.46,509.87 Z" fill="#272727"/>
<path d="M120.80,489.40 L138.46,509.01 L136.36,510.71 Z" fill="#252525"/>
<path d="M120.80,489.40 L137.41,509.91 L135.23,511.50 Z" fill="#232323"/>
<path d="M120.80,489.40 L136.31,510.75 L134.05,512.22 Z" fill="#212121"/>
<path d="M120.80,489.40 L135.17,511.53 L132.84,512.89 Z" fill="#1f1f1f"/>
<path d="M120.80,489.40 L134.00,512.25 L131.59,513.48 Z" fill="#1e1e1e"/>
<path d="M120.80,489.40 L132.78,512.91 L130.32,514.01 Z" fill="#212121"/>
<path d="M120.80,489.40 L131.53,513.51 L129.01,514.48 Z" fill="#242424"/>
<path d="M120.80,489.40 L130.26,514.04 L127.69,514.87 Z" fill="#272727"/>
<path d="M120.80,489.40 L128.95,514.50 L126.35,515.20 Z" fill="#292929"/>
<path d="M120.80,489.40 L127.63,514.89 L124.99,515.46 Z" fill="#2c2c2c"/>
<path d="M120.80,489.40 L126.29,515.21 L123.62,515.64 Z" fill="#2f2f2f"/>
<path d="M120.80,489.40 L124.93,515.47 L122.24,515.75 Z" fill="#323232"/>
<path d="M120.80,489.40 L123.56,515.65 L120.86,515.79 Z" fill="#353535"/>
<path d="M120.80,489.40 L122.18,515.75 L119.48,515.76 Z" fill="#383838"/>
<path d="M120.80,489.40 L120.80,515.79 L118.10,515.65 Z" fill="#404040"/>
<path d="M120.80,489.40 L119.42,515.75 L116.73,515.47 Z" fill="#4d4d4d"/>
<path d="M120.80,489.40 L118.04,515.65 L115.37,515.23 Z" fill="#5b5b5b"/>
<path d="M120.80,489.40 L116.67,515.47 L114.03,514.91 Z" fill="#686868"/>
<path d="M120.80,489.40 L115.31,515.21 L112.70,514.52 Z" fill="#757575"/>
<path d="M120.80,489.40 L113.97,514.89 L111.40,514.06 Z" fill="#838383"/>
<path d="M120.80,489.40 L112.65,514.50 L110.12,513.53 Z" fill="#8e8e8e"/>
<path d="M120.80,489.40 L111.34,514.04 L108.87,512.94 Z" fill="#969696"/>
<path d="M120.80,489.40 L110.07,513.51 L107.66,512.29 Z" fill="#9e9e9e"/>
<path d="M120.80,489.40 L108.82,512.91 L106.48,511.57 Z" fill="#a6a6a6"/>
<path d="M120.80,489.40 L107.61,512.25 L105.34,510.79 Z" fill="#aeaeae"/>
<path d="M120.80,489.40 L106.43,511.53 L104.24,509.95 Z" fill="#b7b7b7"/>
<path d="M120.80,489.40 L105.29,510.75 L103.19,509.05 Z" fill="#bfbfbf"/>
<path d="M120.80,489.40 L104.19,509.91 L102.18,508.10 Z" fill="#c7c7c7"/>
<path d="M120.80,489.40 L103.14,509.01 L101.23,507.10 Z" fill="#cfcfcf"/>
<path d="M120.80,489.40 L102.14,508.06 L100.33,506.06 Z" fill="#d1d1d1"/>
<path d="M120.80,489.40 L101.19,507.06 L99.49,504.96 Z" fill="#d4d4d4"/>
<path d="M120.80,489.40 L100.29,506.01 L98.70,503.83 Z" fill="#d6d6d6"/>
<path d="M120.80,489.40 L99.45,504.91 L97.98,502.65 Z" fill="#d8d8d8"/>
<path d="M120.80,489.40 L98.67,503.77 L97.31,501.44 Z" fill="#dbdbdb"/>
<path d="M120.80,489.40 L97.95,502.60 L96.72,500.19 Z" fill="#dddddd"/>
<path d="M120.80,489.40 L97.29,501.38 L96.19,498.92 Z" fill="#e0e0e0"/>
<path d="M120.80,489.40 L96.69,500.13 L95.72,497.61 Z" fill="#e2e2e2"/>
<path d="M120.80,489.40 L96.16,498.86 L95.33,496.29 Z" fill="#e4e4e4"/>
<path d="M120.80,489.40 L95.70,497.55 L95.00,494.95 Z" fill="#e2e2e2"/>
<path d="M120.80,489.40 L95.31,496.23 L94.74,493.59 Z" fill="#dadada"/>
<path d="M120.80,489.40 L94.99,494.89 L94.56,492.22 Z" fill="#d3d3d3"/>
<path d="M120.80,489.40 L94.73,493.53 L94.45,490.84 Z" fill="#cccccc"/>
<path d="M120.80,489.40 L94.55,492.16 L94.41,489.46 Z" fill="#c4c4c4"/>
<path d="M120.80,489.40 L94.45,490.78 L94.44,488.08 Z" fill="#bdbdbd"/>
<path d="M120.80,489.40 L94.41,489.40 L94.55,486.70 Z" fill="#b6b6b6"/>
<path d="M120.80,489.40 L94.45,488.02 L94.73,485.33 Z" fill="#aeaeae"/>
<path d="M120.80,489.40 L94.55,486.64 L94.97,483.97 Z" fill="#a6a6a6"/>
<path d="M120.80,489.40 L94.73,485.27 L95.29,482.63 Z" fill="#9b9b9b"/>
<path d="M120.80,489.40 L94.99,483.91 L95.68,481.30 Z" fill="#8f8f8f"/>
<path d="M120.80,489.40 L95.31,482.57 L96.14,480.00 Z" fill="#848484"/>
<path d="M120.80,489.40 L95.70,481.25 L96.67,478.72 Z" fill="#787878"/>
<path d="M120.80,489.40 L96.16,479.94 L97.26,477.47 Z" fill="#6d6d6d"/>
<path d="M120.80,489.40 L96.69,478.67 L97.91,476.26 Z" fill="#616161"/>
<path d="M120.80,489.40 L97.29,477.42 L98.63,475.08 Z" fill="#565656"/>
<path d="M120.80,489.40 L97.95,476.21 L99.41,473.94 Z" fill="#505050"/>
<path d="M120.80,489.40 L98.67,475.03 L100.25,472.84 Z" fill="#4c4c4c"/>
<path d="M120.80,489.40 L99.45,473.89 L101.15,471.79 Z" fill="#474747"/>
<path d="M120.80,489.40 L100.29,472.79 L102.10,470.78 Z" fill="#424242"/>
<path d="M120.80,489.40 L101.19,471.74 L103.10,469.83 Z" fill="#3d3d3d"/>
<path d="M120.80,489.40 L102.14,470.74 L104.14,468.93 Z" fill="#393939"/>
<path d="M120.80,489.40 L103.14,469.79 L105.24,468.09 Z" fill="#343434"/>
<path d="M120.80,489.40 L104.19,468.89 L106.37,467.30 Z" fill="#363636"/>
<path d="M120.80,489.40 L105.29,468.05 L107.55,466.58 Z" fill="#3b3b3b"/>
<path d="M120.80,489.40 L106.43,467.27 L108.76,465.91 Z" fill="#3f3f3f"/>
<path d="M120.80,489.40 L107.61,466.55 L110.01,465.32 Z" fill="#444444"/>
<path d="M120.80,489.40 L108.82,465.89 L111.28,464.79 Z" fill="#494949"/>
<path d="M120.80,489.40 L110.07,465.29 L112.59,464.32 Z" fill="#4d4d4d"/>
<path d="M120.80,489.40 L111.34,464.76 L113.91,463.93 Z" fill="#525252"/>
<path d="M120.80,489.40 L112.65,464.30 L115.25,463.60 Z" fill="#595959"/>
<path d="M120.80,489.40 L113.97,463.91 L116.61,463.34 Z" fill="#626262"/>
<path d="M120.80,489.40 L115.31,463.59 L117.98,463.16 Z" fill="#6b6b6b"/>
<path d="M120.80,489.40 L116.67,463.33 L119.36,463.05 Z" fill="#737373"/>
<path d="M120.80,489.40 L118.04,463.15 L120.74,463.01 Z" fill="#7c7c7c"/>
<path d="M120.80,489.40 L119.42,463.05 L122.12,463.04 Z" fill="#858585"/>
</g>
<circle cx="120.8" cy="489.40000000000003" r="20.3" fill="none" stroke="#555" stroke-width="0.6" opacity="0.6"/>
<text x="120.80" y="518.60" font-size="2.9" font-weight="normal" fill="#b8b8b8" text-anchor="middle" >Push/ON/OFF</text>
</g>
<g id="eu">
<rect x="198.2" y="444.4" width="89.8" height="90.3" rx="1" fill="#e9e9eb"/>
<rect x="198.2" y="444.4" width="89.8" height="1.8" fill="#cfcfcf"/>
<rect x="204.4" y="448.4" width="76.4" height="82.4" fill="#e0e1e3"/>
<rect x="285.6" y="446.2" width="0.9" height="88.5" fill="#dcdde0"/>
<rect x="198.2" y="533.5" width="89.8" height="1.2" fill="#dedee0"/>
<circle cx="243.0" cy="489.4" r="15.5" fill="#e8e8ea"/>
<circle cx="243.0" cy="489.4" r="7.6" fill="#eeeef0"/>
<path d="M244.32,487.82 A2.3,2.3 0 1 1 241.68,487.82" fill="none" stroke="#d4d4d4" stroke-width="0.7" stroke-linecap="round"/>
<line x1="243.0" y1="486.82" x2="243.0" y2="489.47" stroke="#d4d4d4" stroke-width="0.7" stroke-linecap="round"/>
<path d="M240.44,469.16 A20.4,20.4 0 0 1 245.56,469.16" fill="none" stroke="#d8303a" stroke-width="1.8" stroke-linecap="round"/>
<path d="M249.48,470.06 A20.4,20.4 0 0 1 254.09,472.27" fill="none" stroke="#e0613a" stroke-width="1.8" stroke-linecap="round"/>
<path d="M257.23,474.78 A20.4,20.4 0 0 1 260.42,478.78" fill="none" stroke="#eeab48" stroke-width="1.8" stroke-linecap="round"/>
<path d="M262.16,482.40 A20.4,20.4 0 0 1 263.30,487.39" fill="none" stroke="#e9e070" stroke-width="1.8" stroke-linecap="round"/>
<path d="M263.30,491.41 A20.4,20.4 0 0 1 262.16,496.40" fill="none" stroke="#cede6e" stroke-width="1.8" stroke-linecap="round"/>
<path d="M260.42,500.02 A20.4,20.4 0 0 1 257.23,504.02" fill="none" stroke="#8ec860" stroke-width="1.8" stroke-linecap="round"/>
<path d="M254.09,506.53 A20.4,20.4 0 0 1 249.48,508.74" fill="none" stroke="#6bc896" stroke-width="1.8" stroke-linecap="round"/>
<path d="M245.56,509.64 A20.4,20.4 0 0 1 240.44,509.64" fill="none" stroke="#7cc8e8" stroke-width="1.8" stroke-linecap="round"/>
<path d="M236.52,508.74 A20.4,20.4 0 0 1 231.91,506.53" fill="none" stroke="#498ed7" stroke-width="1.8" stroke-linecap="round"/>
<path d="M228.77,504.02 A20.4,20.4 0 0 1 225.58,500.02" fill="none" stroke="#294eae" stroke-width="1.8" stroke-linecap="round"/>
<path d="M223.84,496.40 A20.4,20.4 0 0 1 222.70,491.41" fill="none" stroke="#28328c" stroke-width="1.8" stroke-linecap="round"/>
<path d="M222.70,487.39 A20.4,20.4 0 0 1 223.84,482.40" fill="none" stroke="#432b81" stroke-width="1.8" stroke-linecap="round"/>
<path d="M225.58,478.78 A20.4,20.4 0 0 1 228.77,474.78" fill="none" stroke="#7b2e64" stroke-width="1.8" stroke-linecap="round"/>
<path d="M231.91,472.27 A20.4,20.4 0 0 1 236.52,470.06" fill="none" stroke="#b6304b" stroke-width="1.8" stroke-linecap="round"/>
<circle cx="215.0" cy="460.7" r="0.7" fill="#c4c4c4"/>
<circle cx="234.0" cy="460.7" r="0.7" fill="#c4c4c4"/>
<circle cx="252.6" cy="460.7" r="0.7" fill="#c4c4c4"/>
<circle cx="271.5" cy="460.7" r="0.7" fill="#c4c4c4"/>
<path d="M212,490 H218 M215,487 V493" stroke="#cfcfcf" stroke-width="0.6" fill="none"/>
<path d="M269.8,487.3 L273.6,490 L269.8,492.7 Z" stroke="#cfcfcf" stroke-width="0.6" fill="none"/>
<rect x="212.4" y="516.8" width="5.2" height="1.3" rx="0.6" fill="#e04a5a"/>
<rect x="231.4" y="516.8" width="5.2" height="1.3" rx="0.6" fill="#3f7f5a"/>
<rect x="250.0" y="516.8" width="5.2" height="1.3" rx="0.6" fill="#3f6fb8"/>
<rect x="268.9" y="516.8" width="5.2" height="1.3" rx="0.6" fill="#c8c8c8"/>
</g>
<g id="us">
<rect x="327.4" y="432.4" width="70.8" height="113.7" rx="3" fill="#f0f0f0" stroke="#ebebeb" stroke-width="1.0"/>
<rect x="328.9" y="432.2" width="67.8" height="1.4" rx="0.7" fill="#e4e4e4"/>
<rect x="328.9" y="544.8000000000001" width="67.8" height="1.5" rx="0.7" fill="#e2e2e2"/>
<rect x="329.59999999999997" y="434.59999999999997" width="66.4" height="109.3" rx="2" fill="#f3f3f3"/>
<circle cx="362.5" cy="468.1" r="15.3" fill="#e2e2e2"/>
<circle cx="362.0" cy="468.1" r="9.3" fill="url(#uscen)"/>
<path d="M360.16,449.55 A18.7,18.7 0 0 1 364.84,449.55" fill="none" stroke="#d8303a" stroke-width="1.5" stroke-linecap="round"/>
<path d="M368.44,450.37 A18.7,18.7 0 0 1 372.66,452.40" fill="none" stroke="#e0613a" stroke-width="1.5" stroke-linecap="round"/>
<path d="M375.54,454.70 A18.7,18.7 0 0 1 378.47,458.37" fill="none" stroke="#eeab48" stroke-width="1.5" stroke-linecap="round"/>
<path d="M380.07,461.69 A18.7,18.7 0 0 1 381.11,466.26" fill="none" stroke="#e9e070" stroke-width="1.5" stroke-linecap="round"/>
<path d="M381.11,469.94 A18.7,18.7 0 0 1 380.07,474.51" fill="none" stroke="#cede6e" stroke-width="1.5" stroke-linecap="round"/>
<path d="M378.47,477.83 A18.7,18.7 0 0 1 375.54,481.50" fill="none" stroke="#8ec860" stroke-width="1.5" stroke-linecap="round"/>
<path d="M372.66,483.80 A18.7,18.7 0 0 1 368.44,485.83" fill="none" stroke="#6bc896" stroke-width="1.5" stroke-linecap="round"/>
<path d="M364.84,486.65 A18.7,18.7 0 0 1 360.16,486.65" fill="none" stroke="#7cc8e8" stroke-width="1.5" stroke-linecap="round"/>
<path d="M356.56,485.83 A18.7,18.7 0 0 1 352.34,483.80" fill="none" stroke="#498ed7" stroke-width="1.5" stroke-linecap="round"/>
<path d="M349.46,481.50 A18.7,18.7 0 0 1 346.53,477.83" fill="none" stroke="#294eae" stroke-width="1.5" stroke-linecap="round"/>
<path d="M344.93,474.51 A18.7,18.7 0 0 1 343.89,469.94" fill="none" stroke="#28328c" stroke-width="1.5" stroke-linecap="round"/>
<path d="M343.89,466.26 A18.7,18.7 0 0 1 344.93,461.69" fill="none" stroke="#432b81" stroke-width="1.5" stroke-linecap="round"/>
<path d="M346.53,458.37 A18.7,18.7 0 0 1 349.46,454.70" fill="none" stroke="#7b2e64" stroke-width="1.5" stroke-linecap="round"/>
<path d="M352.34,452.40 A18.7,18.7 0 0 1 356.56,450.37" fill="none" stroke="#b6304b" stroke-width="1.5" stroke-linecap="round"/>
<circle cx="342" cy="449.5" r="2.1" fill="none" stroke="#e0405a" stroke-width="0.8"/>
<circle cx="382.6" cy="449.5" r="2.1" fill="none" stroke="#3fae5a" stroke-width="0.8"/>
<circle cx="342" cy="487.4" r="2.1" fill="none" stroke="#3fb0c8" stroke-width="0.8"/>
<circle cx="382.6" cy="487.4" r="2.1" fill="none" stroke="#dedede" stroke-width="0.8"/>
<path d="M363.88,498.93 A2.4,2.4 0 1 1 361.12,498.93" fill="none" stroke="#cfcfcf" stroke-width="0.6" stroke-linecap="round"/>
<line x1="362.5" y1="497.90" x2="362.5" y2="500.66" stroke="#cfcfcf" stroke-width="0.6" stroke-linecap="round"/>
<rect x="340.4" y="513.6" width="3.2" height="3.2" fill="#d0d0d0"/>
<circle cx="362.5" cy="515.2" r="2.0" fill="none" stroke="#e2d6a0" stroke-width="0.7"/>
<path d="M381.2,512.6 L385.0,515.2 L381.2,517.8 Z" fill="none" stroke="#cfcfcf" stroke-width="0.6"/>
<circle cx="342" cy="529.2" r="0.6" fill="#c8c8c8"/>
<circle cx="362.5" cy="529.2" r="0.6" fill="#c8c8c8"/>
<circle cx="382.6" cy="529.2" r="0.6" fill="#c8c8c8"/>
</g>
<g id="keypad">
<rect x="430.5" y="446.0" width="89.3" height="89.5" rx="4.5" fill="url(#kpf)"/>
<path d="M430.9,450.5 V531.0" stroke="#dcdcd6" stroke-width="1.0"/>
<path d="M519.3,450.5 V531.0 M435.0,535.1 H515.3" stroke="#d2d2d4" stroke-width="1.0"/>
<rect x="434.0" y="449.5" width="82.3" height="82.5" rx="3" fill="url(#kpi)"/>
<rect x="443.5" y="459.0" width="63.3" height="63.7" rx="1" fill="#f1f1f1" stroke="#b4b4b4" stroke-width="0.9"/>
<rect x="462.6" y="460.2" width="25.2" height="61.3" fill="#e4ecf5"/>
<path d="M462.6,459.0 V522.7 M487.8,459.0 V522.7" stroke="#b8b8b8" stroke-width="0.8"/>
<path d="M443.5,475.6 H462.6 M487.8,475.6 H506.8" stroke="#bcbcbc" stroke-width="0.7"/>
<path d="M443.5,490.6 H462.6 M487.8,490.6 H506.8" stroke="#bcbcbc" stroke-width="0.7"/>
<path d="M443.5,505.8 H462.6 M487.8,505.8 H506.8" stroke="#bcbcbc" stroke-width="0.7"/>
<path d="M453,465.3 V469.3" stroke="#8e8e8e" stroke-width="0.6"/>
<text x="453.00" y="484.70" font-size="3.8" font-weight="bold" fill="#8e8e8e" text-anchor="middle" >S</text>
<circle cx="453" cy="498.2" r="1.9" fill="none" stroke="#8e8e8e" stroke-width="0.6" stroke-dasharray="1.6 0.8"/>
<circle cx="453" cy="514.2" r="1.8" fill="none" stroke="#8e8e8e" stroke-width="0.6"/>
<circle cx="475.2" cy="467" r="0.6" fill="#666"/>
<circle cx="497.3" cy="467.3" r="1.8" fill="none" stroke="#8e8e8e" stroke-width="0.6"/>
<text x="497.30" y="484.70" font-size="3.8" font-weight="bold" fill="#8e8e8e" text-anchor="middle" >P</text>
<circle cx="497.3" cy="498.2" r="1.1" fill="#8e8e8e"/>
<circle cx="497.3" cy="498.2" r="2.0" fill="none" stroke="#8e8e8e" stroke-width="0.5" stroke-dasharray="0.7 0.7"/>
<circle cx="497.3" cy="514.2" r="1.1" fill="#8e8e8e"/>
<circle cx="497.3" cy="514.2" r="2.0" fill="none" stroke="#8e8e8e" stroke-width="0.5" stroke-dasharray="0.7 0.7"/>
</g>
</g>
<g filter="url(#soft)">
<g id="c4x5">
<path d="M968,181.8 L960,192.6 V203.2 H966 V207.8 H960 V219.8 L968,229.8 Z" fill="#ececec" stroke="#d6d6d6" stroke-width="0.5"/>
<path d="M1146.4,181.8 L1154.4,192.6 V203.2 H1148.4 V207.8 H1154.4 V219.8 L1146.4,229.8 Z" fill="#ececec" stroke="#d6d6d6" stroke-width="0.5"/>
<path d="M961,193 L968,184 M961,219.4 L968,228" stroke="#fafafa" stroke-width="1.4"/>
<path d="M1153.4,193 L1146.4,184 M1153.4,219.4 L1146.4,228" stroke="#fafafa" stroke-width="1.4"/>
<rect x="967.2" y="180.9" width="26.4" height="50.0" fill="#e5e5e5"/>
<rect x="1120.4" y="180.9" width="26.4" height="50.0" fill="#e5e5e5"/>
<rect x="967.2" y="229.6" width="26.4" height="1.4" fill="#c2c2c2"/><rect x="1120.4" y="229.6" width="26.4" height="1.4" fill="#c2c2c2"/>
<rect x="967.2" y="180.9" width="26.4" height="1.0" fill="#c9c9c9"/><rect x="1120.4" y="180.9" width="26.4" height="1.0" fill="#c9c9c9"/>
<rect x="993.2" y="180.3" width="127.5" height="51" rx="0.8" fill="#e3e3e3"/>
<rect x="993.2" y="229.9" width="127.5" height="1.5" fill="#cdcdcd"/>
<rect x="993.2" y="180.3" width="127.5" height="1.0" fill="#dadada"/>
<path d="M993.6,181 V231 M1120.3,181 V231" stroke="#d2d2d2" stroke-width="0.8"/>
<circle cx="973.2" cy="205.6" r="3.5" fill="#8a8a8a"/><circle cx="973.2" cy="205.6" r="2.6" fill="#2c2c2c"/><circle cx="972.7" cy="205.2" r="1.0" fill="#777"/>
<circle cx="1141.4" cy="205.6" r="3.5" fill="#8a8a8a"/><circle cx="1141.4" cy="205.6" r="2.6" fill="#2c2c2c"/><circle cx="1140.9" cy="205.2" r="1.0" fill="#777"/>
<rect x="996" y="184.6" width="6" height="4" fill="none" stroke="#bdbdbd" stroke-width="0.5"/>
<rect x="996" y="190.2" width="6" height="4" fill="none" stroke="#bdbdbd" stroke-width="0.5"/>
<rect x="996" y="195.8" width="6" height="4" fill="none" stroke="#bdbdbd" stroke-width="0.5"/>
<rect x="996" y="201.4" width="6" height="4" fill="none" stroke="#bdbdbd" stroke-width="0.5"/>
<text x="1004.80" y="201.00" font-size="1.9" font-weight="bold" fill="#777" text-anchor="start" transform="rotate(-90 1004.8 201)">POWER IN</text>
<text x="1006.80" y="199.50" font-size="1.7" font-weight="normal" fill="#888" text-anchor="start" transform="rotate(-90 1006.8 199.5)">12-36V</text>
<rect x="995.8" y="211.2" width="12.8" height="3.2" fill="none" stroke="#c6c6c6" stroke-width="0.4"/>
<rect x="995.8" y="213.2" width="6" height="1.8" fill="#3a3a3a"/>
<text x="995.80" y="210.50" font-size="1.6" font-weight="normal" fill="#8a8a8a" text-anchor="start" >Code ON/OFF</text>
<text x="995.80" y="217.20" font-size="1.6" font-weight="normal" fill="#8a8a8a" text-anchor="start" >RF OFF</text>
<path d="M997.5,223.6 h2.3 v3.7 h-1.4 z M1001.2,223.6 h2.6 l-1.1,3.7 h-1.7 z" fill="#222"/>
<rect x="996.4" y="228.7" width="8.8" height="0.7" fill="#9a9a9a"/>
<circle cx="1022" cy="206.2" r="1.9" fill="#2b2b2b"/>
<text x="1022.00" y="210.60" font-size="1.8" font-weight="normal" fill="#9a9a9a" text-anchor="middle" >Learning Key</text>
<text x="1040.00" y="189.60" font-size="3.3" font-weight="bold" fill="#4c4c4c" text-anchor="start" textLength="22" lengthAdjust="spacingAndGlyphs">SR-1009FA</text>
<text x="1040.00" y="192.90" font-size="2.1" font-weight="normal" fill="#8a8a8a" text-anchor="start" >RF LED CONTROLLER</text>
<text x="1040.00" y="198.40" font-size="2.4640000000000004" font-weight="normal" fill="#747474" text-anchor="start" >INPUT</text>
<text x="1040.00" y="201.15" font-size="2.4640000000000004" font-weight="normal" fill="#747474" text-anchor="start" >Uin=12-36VDC</text>
<text x="1040.00" y="203.90" font-size="2.4640000000000004" font-weight="normal" fill="#747474" text-anchor="start" >Iin=20.5A</text>
<text x="1040.00" y="206.65" font-size="2.4640000000000004" font-weight="normal" fill="#747474" text-anchor="start" >INPUT</text>
<text x="1040.00" y="209.40" font-size="2.4640000000000004" font-weight="normal" fill="#747474" text-anchor="start" >Uout=4x(12-36)VDC</text>
<text x="1040.00" y="212.15" font-size="2.4640000000000004" font-weight="normal" fill="#747474" text-anchor="start" >Iout=4x5A</text>
<text x="1040.00" y="214.90" font-size="2.4640000000000004" font-weight="normal" fill="#747474" text-anchor="start" >Pout=4x(60-180)W</text>
<text x="1074.00" y="201.60" font-size="2.0" font-weight="normal" fill="#9a9a9a" text-anchor="start" >ta: 50&#176;C</text>
<text x="1074.00" y="204.60" font-size="2.0" font-weight="normal" fill="#9a9a9a" text-anchor="start" >-20~50&#176;C / 65&#176;C</text>
<g transform="translate(1039.50,225.00) scale(1.3,1)">
<path d="M0,1.2 l2.2,-3.8 h4.5 l-1.0,2.8 h2.2" fill="none" stroke="#3c3c3c" stroke-width="1.00"/>
<text x="1.75" y="1.25" font-size="3.1" font-weight="bold" fill="#3c3c3c" text-anchor="start" >Us</text>
<text x="9.50" y="1.80" font-size="4.75" font-weight="bold" fill="#3c3c3c" text-anchor="start" textLength="5.8" lengthAdjust="spacingAndGlyphs">C&#8364;</text>
<path d="M16.5,-2.2 l3.0,3.8 m0,-3.8 l-3.0,3.8" stroke="#3c3c3c" stroke-width="0.50" fill="none"/>
<rect x="17.0" y="-1.6" width="2.0" height="2.5" fill="none" stroke="#3c3c3c" stroke-width="0.45"/>
<rect x="16.4" y="1.8" width="3.2" height="0.7" fill="#3c3c3c"/>
<text x="20.75" y="1.80" font-size="4.75" font-weight="normal" fill="#5a5a5a" text-anchor="start" >RoHS</text>
</g>
<text x="1100.50" y="210.00" font-size="1.9" font-weight="bold" fill="#8a8a8a" text-anchor="start" transform="rotate(-90 1100.5 210)">OUTPUT</text>
<path d="M1104,188.3 h4 l2.5,-2.5 h7 M1110.5,189.3 h6.5" stroke="#b4b4b4" stroke-width="0.45" fill="none"/>
<text x="1104.40" y="187.10" font-size="1.6" font-weight="normal" fill="#9a9a9a" text-anchor="start" >CH1</text>
<path d="M1104,201.3 h4 l2.5,-2.5 h7 M1110.5,202.3 h6.5" stroke="#b4b4b4" stroke-width="0.45" fill="none"/>
<text x="1104.40" y="200.10" font-size="1.6" font-weight="normal" fill="#9a9a9a" text-anchor="start" >CH2</text>
<path d="M1104,213.3 h4 l2.5,-2.5 h7 M1110.5,214.3 h6.5" stroke="#b4b4b4" stroke-width="0.45" fill="none"/>
<text x="1104.40" y="212.10" font-size="1.6" font-weight="normal" fill="#9a9a9a" text-anchor="start" >CH3</text>
<path d="M1104,224.8 h4 l2.5,-2.5 h7 M1110.5,225.8 h6.5" stroke="#b4b4b4" stroke-width="0.45" fill="none"/>
<text x="1104.40" y="223.60" font-size="1.6" font-weight="normal" fill="#9a9a9a" text-anchor="start" >CH4</text>
<rect x="1115" y="184.5" width="3.6" height="3.6" fill="none" stroke="#c6c6c6" stroke-width="0.4"/>
<rect x="1115" y="190" width="3.6" height="3.6" fill="none" stroke="#c6c6c6" stroke-width="0.4"/>
<rect x="1115" y="195.5" width="3.6" height="3.6" fill="none" stroke="#c6c6c6" stroke-width="0.4"/>
<rect x="1115" y="201" width="3.6" height="3.6" fill="none" stroke="#c6c6c6" stroke-width="0.4"/>
<rect x="1115" y="206.5" width="3.6" height="3.6" fill="none" stroke="#c6c6c6" stroke-width="0.4"/>
<rect x="1115" y="212" width="3.6" height="3.6" fill="none" stroke="#c6c6c6" stroke-width="0.4"/>
<rect x="1115" y="217.5" width="3.6" height="3.6" fill="none" stroke="#c6c6c6" stroke-width="0.4"/>
<rect x="1115" y="223" width="3.6" height="3.6" fill="none" stroke="#c6c6c6" stroke-width="0.4"/>
</g>
<g id="c4x8">
<path d="M844.4,317.7 H1019.6 Q1022.1,317.7 1022.1,320.2 V345.2 L1018.4,346.4 V350.2 L1022.1,351.4 V375.8 Q1022.1,378.3 1019.6,378.3 H844.4 Q841.9,378.3 841.9,375.8 V351.4 L845.6,350.2 V346.4 L841.9,345.2 V320.2 Q841.9,317.7 844.4,317.7 Z" fill="#dededc"/>
<rect x="844" y="376.6" width="176" height="1.7" rx="0.8" fill="#c4c4c4"/>
<rect x="844" y="317.7" width="176" height="1.3" rx="0.6" fill="#ebebeb"/>
<rect x="880.9" y="319.6" width="102" height="57.2" fill="#dcdcda"/>
<path d="M881,320 V376.6 M982.8,320 V376.6" stroke="#d3d3d3" stroke-width="0.7"/>
<path d="M877.6,322.6 V373.8" stroke="#b2b2b2" stroke-width="1.0"/>
<path d="M877.4,323.5 h-5.4 M877.4,373.2 h-5.4" stroke="#2a2a2a" stroke-width="0.8"/>
<path d="M877.6,322.2 v1.8 M877.6,372.4 v1.8" stroke="#444" stroke-width="0.7"/>
<path d="M986.4,322.6 V373.8" stroke="#b2b2b2" stroke-width="1.0"/>
<path d="M986.6,323.5 h5.4 M986.6,373.2 h5.4" stroke="#2a2a2a" stroke-width="0.8"/>
<path d="M986.4,322.2 v1.8 M986.4,372.4 v1.8" stroke="#444" stroke-width="0.7"/>
<rect x="882.7" y="322.6" width="17" height="19.4" fill="none" stroke="#a8a8a8" stroke-width="0.5"/>
<circle cx="885.7" cy="325.0" r="0.95" fill="#1e1e1e"/>
<circle cx="885.7" cy="330.2" r="0.95" fill="#1e1e1e"/>
<circle cx="885.7" cy="335.5" r="0.95" fill="#1e1e1e"/>
<circle cx="885.7" cy="340.6" r="0.95" fill="#1e1e1e"/>
<path d="M886.7,325 h3 v5.2 h-3 M886.7,335.5 h3 v5.1 h-3" stroke="#8a8a8a" stroke-width="0.4" fill="none"/>
<text x="891.00" y="328.60" font-size="1.7" font-weight="normal" fill="#888" text-anchor="start" >V+</text>
<text x="891.00" y="339.40" font-size="1.7" font-weight="normal" fill="#888" text-anchor="start" >V-</text>
<text x="895.20" y="339.50" font-size="1.8" font-weight="bold" fill="#6a6a6a" text-anchor="start" transform="rotate(-90 895.2 339.5)">POWER IN</text>
<text x="897.60" y="338.50" font-size="1.6" font-weight="normal" fill="#8a8a8a" text-anchor="start" transform="rotate(-90 897.6 338.5)">12-36VDC</text>
<text x="883.40" y="348.20" font-size="1.8" font-weight="normal" fill="#9a9a9a" text-anchor="start" >Learning</text>
<text x="883.40" y="350.60" font-size="1.8" font-weight="normal" fill="#9a9a9a" text-anchor="start" >Key</text>
<path d="M884.4,357.0 h1.6 v2.5 h-1.0 z M886.9,357.0 h1.7 l-0.8,2.5 h-1.2 z" fill="#222"/>
<rect x="883.6" y="360.5" width="6.0" height="0.5" fill="#9a9a9a"/>
<rect x="963.3" y="322.6" width="19.1" height="51.7" fill="none" stroke="#a8a8a8" stroke-width="0.5"/>
<circle cx="979.1" cy="324.6" r="1.0" fill="#1c1c1c"/>
<circle cx="979.1" cy="330.0" r="1.0" fill="#1c1c1c"/>
<circle cx="979.1" cy="335.3" r="1.0" fill="#1c1c1c"/>
<circle cx="979.1" cy="340.6" r="1.0" fill="#1c1c1c"/>
<circle cx="979.1" cy="345.7" r="1.0" fill="#1c1c1c"/>
<circle cx="979.1" cy="351.0" r="1.0" fill="#1c1c1c"/>
<circle cx="979.1" cy="356.3" r="1.0" fill="#1c1c1c"/>
<circle cx="979.1" cy="361.4" r="1.0" fill="#1c1c1c"/>
<circle cx="979.1" cy="366.5" r="1.0" fill="#1c1c1c"/>
<circle cx="979.1" cy="371.7" r="1.0" fill="#1c1c1c"/>
<path d="M978.2,324.6 h-2.2 v5.4 h2.2" stroke="#777" stroke-width="0.45" fill="none"/>
<text x="971.40" y="327.90" font-size="1.6" font-weight="normal" fill="#8a8a8a" text-anchor="start" >V+</text>
<path d="M978.2,335.3 h-2.2 v5.3 h2.2" stroke="#777" stroke-width="0.45" fill="none"/>
<text x="969.60" y="337.75" font-size="1.6" font-weight="normal" fill="#8a8a8a" text-anchor="start" >CH1</text>
<path d="M968.4,339.3 h6.5" stroke="#999" stroke-width="0.35"/>
<path d="M978.2,345.7 h-2.2 v5.3 h2.2" stroke="#777" stroke-width="0.45" fill="none"/>
<text x="969.60" y="348.15" font-size="1.6" font-weight="normal" fill="#8a8a8a" text-anchor="start" >CH2</text>
<path d="M968.4,349.7 h6.5" stroke="#999" stroke-width="0.35"/>
<path d="M978.2,356.3 h-2.2 v5.1 h2.2" stroke="#777" stroke-width="0.45" fill="none"/>
<text x="969.60" y="358.65" font-size="1.6" font-weight="normal" fill="#8a8a8a" text-anchor="start" >CH3</text>
<path d="M968.4,360.2 h6.5" stroke="#999" stroke-width="0.35"/>
<path d="M978.2,366.5 h-2.2 v5.2 h2.2" stroke="#777" stroke-width="0.45" fill="none"/>
<text x="969.60" y="368.90" font-size="1.6" font-weight="normal" fill="#8a8a8a" text-anchor="start" >CH4</text>
<path d="M968.4,370.4 h6.5" stroke="#999" stroke-width="0.35"/>
<text x="966.60" y="354.50" font-size="1.9" font-weight="bold" fill="#666" text-anchor="start" transform="rotate(-90 966.6 354.5)">OUTPUT</text>
<text x="909.00" y="331.90" font-size="3.4" font-weight="bold" fill="#444" text-anchor="start" textLength="21.5" lengthAdjust="spacingAndGlyphs">SR-1009EA</text>
<text x="909.00" y="335.30" font-size="2.1" font-weight="normal" fill="#8c8c8c" text-anchor="start" >RF LED CONTROLLER</text>
<text x="909.00" y="341.60" font-size="2.576" font-weight="normal" fill="#7a7a7a" text-anchor="start" >INPUT</text>
<text x="909.00" y="344.45" font-size="2.576" font-weight="normal" fill="#7a7a7a" text-anchor="start" >Uin=12-36VDC</text>
<text x="909.00" y="347.30" font-size="2.576" font-weight="normal" fill="#7a7a7a" text-anchor="start" >Iin=32.5A</text>
<text x="909.00" y="350.15" font-size="2.576" font-weight="normal" fill="#7a7a7a" text-anchor="start" >INPUT</text>
<text x="909.00" y="353.00" font-size="2.576" font-weight="normal" fill="#7a7a7a" text-anchor="start" >Uout=4x(12-36)VDC</text>
<text x="909.00" y="355.85" font-size="2.576" font-weight="normal" fill="#7a7a7a" text-anchor="start" >Iout=4x8A</text>
<text x="909.00" y="358.70" font-size="2.576" font-weight="normal" fill="#7a7a7a" text-anchor="start" >Pout=4x(96-288)W</text>
<text x="909.00" y="361.55" font-size="2.576" font-weight="normal" fill="#7a7a7a" text-anchor="start" >TEMP RANGE: -20&#176;C~+50&#176;C</text>
<text x="947.20" y="346.40" font-size="2.0" font-weight="normal" fill="#8a8a8a" text-anchor="start" >tc=75&#176;C</text>
<rect x="947.6" y="353.6" width="11.6" height="3.6" rx="0.6" fill="none" stroke="#777" stroke-width="0.45"/>
<rect x="947.6" y="354.2" width="6" height="2.6" fill="#3c3c3c"/>
<text x="947.60" y="352.80" font-size="1.5" font-weight="normal" fill="#999" text-anchor="start" >Code ON</text>
<text x="947.60" y="359.40" font-size="1.5" font-weight="normal" fill="#999" text-anchor="start" >RF OFF</text>
<g transform="translate(909.20,371.20) scale(1.3,1)">
<path d="M0,1.3 l2.3,-3.9 h4.7 l-1.0,2.9 h2.3" fill="none" stroke="#3c3c3c" stroke-width="1.04"/>
<text x="1.82" y="1.30" font-size="3.224" font-weight="bold" fill="#3c3c3c" text-anchor="start" >Us</text>
<text x="9.88" y="1.87" font-size="4.9399999999999995" font-weight="bold" fill="#3c3c3c" text-anchor="start" textLength="6.0" lengthAdjust="spacingAndGlyphs">C&#8364;</text>
<path d="M17.2,-2.3 l3.1,3.9 m0,-3.9 l-3.1,3.9" stroke="#3c3c3c" stroke-width="0.52" fill="none"/>
<rect x="17.7" y="-1.7" width="2.1" height="2.6" fill="none" stroke="#3c3c3c" stroke-width="0.47"/>
<rect x="17.1" y="1.9" width="3.3" height="0.7" fill="#3c3c3c"/>
<text x="21.58" y="1.87" font-size="4.9399999999999995" font-weight="normal" fill="#5a5a5a" text-anchor="start" >RoHS</text>
</g>
</g>
<g id="cscrewless">
<rect x="1093.1" y="316.5" width="182.6" height="57.3" rx="1.6" fill="#e9e9e9"/>
<rect x="1093.1" y="371.9" width="182.6" height="1.9" rx="0.9" fill="#c9c9c9"/>
<rect x="1093.1" y="316.5" width="182.6" height="1.3" rx="0.6" fill="#dedede"/>
<rect x="1127.5" y="317.8" width="113.7" height="54.2" fill="#e6e6e6"/>
<path d="M1127.5,318.2 V372 M1241.2,318.2 V372" stroke="#bdbdbd" stroke-width="0.6"/>
<path d="M1133.6,317.4 h1.6 M1133.6,372.6 h1.6 M1233.8,317.4 h1.6 M1233.8,372.6 h1.6" stroke="#aaa" stroke-width="0.9"/>
<path d="M1132.2,321.8 h2.4 v3.9 h-1.5 z M1136.1,321.8 h2.7 l-1.2,3.9 h-1.8 z" fill="#222"/>
<rect x="1131.0" y="327.1" width="9.2" height="0.7" fill="#9a9a9a"/>
<text x="1130.60" y="332.90" font-size="1.9" font-weight="normal" fill="#9a9a9a" text-anchor="start" >Learning</text>
<text x="1130.60" y="335.30" font-size="1.9" font-weight="normal" fill="#9a9a9a" text-anchor="start" >Key</text>
<text x="1159.00" y="326.20" font-size="3.3" font-weight="bold" fill="#4c4c4c" text-anchor="start" textLength="22" lengthAdjust="spacingAndGlyphs">SR-1009NP</text>
<text x="1159.00" y="330.60" font-size="2.3" font-weight="normal" fill="#8c8c8c" text-anchor="start" >RF LED CONTROLLER</text>
<text x="1159.00" y="336.00" font-size="2.4640000000000004" font-weight="normal" fill="#838383" text-anchor="start" >INPUT</text>
<text x="1159.00" y="338.65" font-size="2.4640000000000004" font-weight="normal" fill="#838383" text-anchor="start" >Uin=12-36VDC</text>
<text x="1159.00" y="341.30" font-size="2.4640000000000004" font-weight="normal" fill="#838383" text-anchor="start" >Iin=20.5A</text>
<text x="1159.00" y="343.95" font-size="2.4640000000000004" font-weight="normal" fill="#838383" text-anchor="start" >INPUT</text>
<text x="1159.00" y="346.60" font-size="2.4640000000000004" font-weight="normal" fill="#838383" text-anchor="start" >Uout=4x(12-36)VDC</text>
<text x="1159.00" y="349.25" font-size="2.4640000000000004" font-weight="normal" fill="#838383" text-anchor="start" >Iout=4x5A</text>
<text x="1159.00" y="351.90" font-size="2.4640000000000004" font-weight="normal" fill="#838383" text-anchor="start" >Pout=4x(60-180)W</text>
<text x="1159.00" y="356.40" font-size="2.2" font-weight="normal" fill="#7d7d7d" text-anchor="start" >TEMP RANGE: -20&#176;C~+50&#176;C</text>
<text x="1192.00" y="349.80" font-size="1.9" font-weight="normal" fill="#9a9a9a" text-anchor="start" >tc=75&#176;C</text>
<g transform="translate(1159.20,365.80) scale(1.3,1)">
<path d="M0,1.4 l2.4,-4.1 h4.9 l-1.1,3.0 h2.4" fill="none" stroke="#3c3c3c" stroke-width="1.08"/>
<text x="1.89" y="1.35" font-size="3.3480000000000003" font-weight="bold" fill="#3c3c3c" text-anchor="start" >Us</text>
<text x="10.26" y="1.94" font-size="5.13" font-weight="bold" fill="#3c3c3c" text-anchor="start" textLength="6.2" lengthAdjust="spacingAndGlyphs">C&#8364;</text>
<text x="17.82" y="1.94" font-size="5.4" font-weight="bold" fill="#222" text-anchor="start" textLength="6.8" lengthAdjust="spacingAndGlyphs">FC</text>
<path d="M25.9,-2.4 l3.2,4.1 m0,-4.1 l-3.2,4.1" stroke="#3c3c3c" stroke-width="0.54" fill="none"/>
<rect x="26.5" y="-1.7" width="2.2" height="2.7" fill="none" stroke="#3c3c3c" stroke-width="0.49"/>
<rect x="25.8" y="1.9" width="3.5" height="0.7" fill="#3c3c3c"/>
<text x="30.51" y="1.94" font-size="5.13" font-weight="normal" fill="#5a5a5a" text-anchor="start" >RoHS</text>
</g>
<rect x="1214.2" y="334.2" width="6" height="5.4" fill="none" stroke="#8a8a8a" stroke-width="0.4"/>
<rect x="1214.2" y="334.6" width="6" height="2.2" fill="#303030"/>
<text x="1214.00" y="333.40" font-size="1.5" font-weight="normal" fill="#999" text-anchor="start" >Code ON</text>
<text x="1229.60" y="334.80" font-size="1.8" font-weight="bold" fill="#777" text-anchor="start" transform="rotate(-90 1229.6 334.8)">POWER IN</text>
<text x="1231.80" y="333.80" font-size="1.6" font-weight="normal" fill="#8a8a8a" text-anchor="start" transform="rotate(-90 1231.8 333.8)">12-36V</text>
<text x="1231.60" y="364.00" font-size="1.8" font-weight="normal" fill="#999" text-anchor="start" transform="rotate(-90 1231.6 364)">LED OUTPUT</text>
<rect x="1234.0" y="319.6" width="6.6" height="50.6" fill="#e2e2e2" stroke="#c6c6c6" stroke-width="0.4"/>
<rect x="1235.0" y="320.4" width="4.6" height="3.3" fill="#dadada" stroke="#bcbcbc" stroke-width="0.35"/>
<rect x="1235.0" y="324.9" width="4.6" height="3.3" fill="#dadada" stroke="#bcbcbc" stroke-width="0.35"/>
<rect x="1235.0" y="329.4" width="4.6" height="3.3" fill="#dadada" stroke="#bcbcbc" stroke-width="0.35"/>
<rect x="1235.0" y="334.0" width="4.6" height="3.3" fill="#dadada" stroke="#bcbcbc" stroke-width="0.35"/>
<rect x="1235.0" y="338.5" width="4.6" height="3.3" fill="#dadada" stroke="#bcbcbc" stroke-width="0.35"/>
<rect x="1235.0" y="343.0" width="4.6" height="3.3" fill="#dadada" stroke="#bcbcbc" stroke-width="0.35"/>
<rect x="1235.0" y="347.5" width="4.6" height="3.3" fill="#dadada" stroke="#bcbcbc" stroke-width="0.35"/>
<rect x="1235.0" y="352.0" width="4.6" height="3.3" fill="#dadada" stroke="#bcbcbc" stroke-width="0.35"/>
<rect x="1235.0" y="356.6" width="4.6" height="3.3" fill="#dadada" stroke="#bcbcbc" stroke-width="0.35"/>
<rect x="1235.0" y="361.1" width="4.6" height="3.3" fill="#dadada" stroke="#bcbcbc" stroke-width="0.35"/>
<rect x="1235.0" y="365.6" width="4.6" height="3.3" fill="#dadada" stroke="#bcbcbc" stroke-width="0.35"/>
</g>
<g id="cip67">
<path d="M805.0,514.6 C818,514.2 830,513.0 842,512.2" fill="none" stroke="#111" stroke-width="6.6" stroke-linecap="butt"/>
<path d="M805.0,514.6 C818,514.2 830,513.0 842,512.2" fill="none" stroke="#3a3a3a" stroke-width="1.5" stroke-linecap="butt" transform="translate(0,-1.5)" opacity="0.55"/>
<path d="M1026,490.0 C1040,490.8 1054,493.4 1066.4,497.6" fill="none" stroke="#111" stroke-width="6.6" stroke-linecap="butt"/>
<path d="M1026,490.0 C1040,490.8 1054,493.4 1066.4,497.6" fill="none" stroke="#3a3a3a" stroke-width="1.5" stroke-linecap="butt" transform="translate(0,-1.5)" opacity="0.55"/>
<rect x="856.1" y="467.9" width="155.4" height="66.3" rx="2.6" fill="#d0d0d0"/>
<rect x="859.2" y="467.9" width="149.4" height="66.3" rx="1" fill="#e2e2e2"/>
<rect x="859.2" y="532.2" width="149.4" height="2.0" fill="#c9c9c9"/>
<rect x="859.2" y="467.9" width="149.4" height="1.2" fill="#ececec"/>
<path d="M856.2,503.7 L846.5,503.7 Q839.8,503.7 839.8,510.4 L839.8,514.4 Q839.8,521.1 846.5,521.1 L856.2,521.1 Z" fill="#161616"/>
<rect x="856.2" y="503.1" width="3.4" height="18.6" rx="0.6" fill="#121212"/>
<path d="M855.8,504.1 V520.7" stroke="#3a3a3a" stroke-width="0.6"/>
<rect x="841.4" y="508.7" width="2.8" height="3.0" fill="#7a7a7a" opacity="0.7"/>
<path d="M848.1,504.9 V519.9" stroke="#303030" stroke-width="0.7"/>
<path d="M1012.6,480.5 L1021.6,480.5 Q1028.4,480.5 1028.4,487.3 L1028.4,491.3 Q1028.4,498.1 1021.6,498.1 L1012.6,498.1 Z" fill="#161616"/>
<rect x="1009.2" y="479.9" width="3.4" height="18.8" rx="0.6" fill="#121212"/>
<path d="M1013.0,480.9 V497.7" stroke="#3a3a3a" stroke-width="0.6"/>
<rect x="1024.0" y="485.5" width="2.8" height="3.0" fill="#7a7a7a" opacity="0.7"/>
<path d="M1020.3,481.7 V496.9" stroke="#303030" stroke-width="0.7"/>
<text x="888.80" y="480.80" font-size="3.5" font-weight="bold" fill="#444" text-anchor="start" textLength="34" lengthAdjust="spacingAndGlyphs">SR-1009FA(WP)</text>
<text x="888.80" y="485.20" font-size="2.5" font-weight="normal" fill="#8a8a8a" text-anchor="start" >RF LED Controller</text>
<text x="888.80" y="491.80" font-size="2.576" font-weight="normal" fill="#747474" text-anchor="start" >INPUT</text>
<text x="888.80" y="494.80" font-size="2.576" font-weight="normal" fill="#747474" text-anchor="start" >Uin=12-36VDC</text>
<text x="888.80" y="497.80" font-size="2.576" font-weight="normal" fill="#747474" text-anchor="start" >Iin=20.5A</text>
<text x="888.80" y="500.80" font-size="2.576" font-weight="normal" fill="#747474" text-anchor="start" >INPUT</text>
<text x="888.80" y="503.80" font-size="2.576" font-weight="normal" fill="#747474" text-anchor="start" >Uout=4x(12-36)VDC</text>
<text x="888.80" y="506.80" font-size="2.576" font-weight="normal" fill="#747474" text-anchor="start" >Iout=4x5A</text>
<text x="888.80" y="509.80" font-size="2.576" font-weight="normal" fill="#747474" text-anchor="start" >Pout=4x(60-180)W</text>
<rect x="863.4" y="492.4" width="13" height="10.4" fill="none" stroke="#a8a8a8" stroke-width="0.4"/>
<path d="M863.4,495 h13 M863.4,497.6 h13 M863.4,500.2 h13 M868,495 v7.8" stroke="#b4b4b4" stroke-width="0.35"/>
<text x="864.00" y="494.50" font-size="1.6" font-weight="bold" fill="#666" text-anchor="start" >DC INPUT</text>
<circle cx="864.6" cy="510.6" r="1.05" fill="#1a1a1a"/>
<circle cx="864.6" cy="515.9" r="1.05" fill="#1a1a1a"/>
<text x="870.20" y="517.20" font-size="1.7" font-weight="bold" fill="#777" text-anchor="start" transform="rotate(-90 870.2 517.2)">POWER</text>
<text x="872.20" y="516.60" font-size="1.6" font-weight="normal" fill="#8a8a8a" text-anchor="start" transform="rotate(-90 872.2 516.6)">INPUT</text>
<rect x="960.6" y="476.8" width="35.6" height="22.6" fill="none" stroke="#9c9c9c" stroke-width="0.45"/>
<path d="M960.6,479.6 h35.6" stroke="#a8a8a8" stroke-width="0.4"/>
<path d="M960.6,483.6 h35.6" stroke="#a8a8a8" stroke-width="0.4"/>
<path d="M960.6,487.6 h35.6" stroke="#a8a8a8" stroke-width="0.4"/>
<path d="M960.6,491.5 h35.6" stroke="#a8a8a8" stroke-width="0.4"/>
<path d="M960.6,495.4 h35.6" stroke="#a8a8a8" stroke-width="0.4"/>
<path d="M978,479.6 v19.8 M981.6,483.6 v15.8 M988.8,483.6 v15.8" stroke="#adadad" stroke-width="0.35"/>
<text x="961.40" y="479.00" font-size="1.7" font-weight="bold" fill="#6a6a6a" text-anchor="start" >LED OUTPUT</text>
<text x="961.40" y="482.70" font-size="1.9" font-weight="normal" fill="#777" text-anchor="start" >Brown</text>
<text x="961.40" y="486.70" font-size="1.9" font-weight="normal" fill="#777" text-anchor="start" >Black</text>
<text x="979.00" y="486.70" font-size="1.6" font-weight="normal" fill="#8a8a8a" text-anchor="start" >CH1</text>
<text x="982.40" y="486.70" font-size="1.6" font-weight="normal" fill="#8a8a8a" text-anchor="start" >12-36V</text>
<text x="989.40" y="486.70" font-size="1.6" font-weight="normal" fill="#8a8a8a" text-anchor="start" >5A</text>
<text x="961.40" y="490.60" font-size="1.9" font-weight="normal" fill="#777" text-anchor="start" >White/Green</text>
<text x="979.00" y="490.60" font-size="1.6" font-weight="normal" fill="#8a8a8a" text-anchor="start" >CH2</text>
<text x="982.40" y="490.60" font-size="1.6" font-weight="normal" fill="#8a8a8a" text-anchor="start" >12-36V</text>
<text x="989.40" y="490.60" font-size="1.6" font-weight="normal" fill="#8a8a8a" text-anchor="start" >5A</text>
<text x="961.40" y="494.50" font-size="1.9" font-weight="normal" fill="#777" text-anchor="start" >Blue</text>
<text x="979.00" y="494.50" font-size="1.6" font-weight="normal" fill="#8a8a8a" text-anchor="start" >CH3</text>
<text x="982.40" y="494.50" font-size="1.6" font-weight="normal" fill="#8a8a8a" text-anchor="start" >12-36V</text>
<text x="989.40" y="494.50" font-size="1.6" font-weight="normal" fill="#8a8a8a" text-anchor="start" >5A</text>
<text x="961.40" y="498.50" font-size="1.9" font-weight="normal" fill="#777" text-anchor="start" >Grey/White</text>
<text x="979.00" y="498.50" font-size="1.6" font-weight="normal" fill="#8a8a8a" text-anchor="start" >CH4</text>
<text x="982.40" y="498.50" font-size="1.6" font-weight="normal" fill="#8a8a8a" text-anchor="start" >12-36V</text>
<text x="989.40" y="498.50" font-size="1.6" font-weight="normal" fill="#8a8a8a" text-anchor="start" >5A</text>
<circle cx="1004.2" cy="480.5" r="1.05" fill="#1a1a1a"/>
<circle cx="1004.2" cy="484.7" r="1.05" fill="#1a1a1a"/>
<circle cx="1004.2" cy="488.9" r="1.05" fill="#1a1a1a"/>
<circle cx="1004.2" cy="493.1" r="1.05" fill="#1a1a1a"/>
<circle cx="1004.2" cy="497.3" r="1.05" fill="#1a1a1a"/>
<text x="1001.20" y="495.60" font-size="1.6" font-weight="normal" fill="#8a8a8a" text-anchor="start" transform="rotate(-90 1001.2 495.6)">LED OUTPUT</text>
<circle cx="938" cy="509.1" r="2.0" fill="#9a9a9a"/><circle cx="938" cy="509.1" r="1.1" fill="#bcbcbc"/>
<text x="938.00" y="514.20" font-size="1.6" font-weight="normal" fill="#a4a4a4" text-anchor="middle" >Learning</text>
<text x="938.00" y="516.20" font-size="1.6" font-weight="normal" fill="#a4a4a4" text-anchor="middle" >Key</text>
<text x="962.60" y="509.80" font-size="1.8" font-weight="normal" fill="#9a9a9a" text-anchor="start" >ta=50&#176;C</text>
<text x="962.60" y="513.00" font-size="1.8" font-weight="normal" fill="#9a9a9a" text-anchor="start" >-20~50&#176;C / 65&#176;C</text>
<g transform="translate(888.60,526.60) scale(1.3,1)">
<path d="M0,1.3 l2.3,-3.9 h4.7 l-1.0,2.9 h2.3" fill="none" stroke="#3c3c3c" stroke-width="1.04"/>
<text x="1.82" y="1.30" font-size="3.224" font-weight="bold" fill="#3c3c3c" text-anchor="start" >Us</text>
<text x="9.88" y="1.87" font-size="4.9399999999999995" font-weight="bold" fill="#3c3c3c" text-anchor="start" textLength="6.0" lengthAdjust="spacingAndGlyphs">C&#8364;</text>
<path d="M17.2,-2.3 l3.1,3.9 m0,-3.9 l-3.1,3.9" stroke="#3c3c3c" stroke-width="0.52" fill="none"/>
<rect x="17.7" y="-1.7" width="2.1" height="2.6" fill="none" stroke="#3c3c3c" stroke-width="0.47"/>
<rect x="17.1" y="1.9" width="3.3" height="0.7" fill="#3c3c3c"/>
<text x="21.58" y="1.87" font-size="4.9399999999999995" font-weight="normal" fill="#5a5a5a" text-anchor="start" >RoHS</text>
</g>
<text x="935.82" y="528.30" font-size="2.6" font-weight="bold" fill="#444" text-anchor="start" textLength="8.6" lengthAdjust="spacingAndGlyphs">IP67</text>
</g>
<g id="cdin">
<polygon points="1126.25,493.75 1136.88,489.62 1136.88,485.00 1178.12,500.00 1191.25,511.25 1192.50,527.50 1210.00,543.75 1211.50,555.62 1185.00,542.75 1183.50,535.00 1156.25,521.25 1155.25,524.38 1131.00,511.25 1130.00,505.00" fill="#c4c4c4" />
<polygon points="1126.25,493.75 1135.62,498.12 1136.88,510.00 1131.00,511.25 1130.00,505.00" fill="#bcbcbc" />
<polygon points="1135.62,498.12 1190.00,526.25 1191.88,528.12 1210.00,543.75 1211.50,555.62 1185.00,542.75 1183.50,535.00 1156.25,521.25 1155.25,524.38 1136.88,510.00" fill="#c4c4c4" />
<polygon points="1135.62,498.12 1190.00,526.25 1190.75,528.50 1136.25,500.50" fill="#cecece" />
<polygon points="1126.25,493.75 1136.88,489.62 1141.25,491.50 1135.62,498.12" fill="#d6d6d6" />
<polygon points="1136.88,484.75 1178.12,500.00 1180.62,511.50 1190.00,526.88 1135.62,498.12" fill="#c6c6c6" />
<polygon points="1136.88,484.75 1178.12,500.00 1178.75,503.50 1136.62,488.25" fill="#d8d8d8" />
<polygon points="1178.12,500.00 1214.38,464.75 1220.00,472.50 1223.12,490.62 1191.25,522.50 1190.00,526.88 1180.62,511.50" fill="#d2d2d2" />
<polygon points="1191.50,506.88 1193.12,505.25 1195.12,517.38 1193.50,519.00" fill="#f1f1f1" />
<polygon points="1193.12,505.25 1193.88,504.50 1195.88,516.62 1195.12,517.38" fill="#a9a9a9" />
<polygon points="1194.47,503.75 1196.09,502.12 1198.00,513.86 1196.38,515.48" fill="#f1f1f1" />
<polygon points="1196.09,502.12 1196.84,501.38 1198.75,513.11 1198.00,513.86" fill="#a9a9a9" />
<polygon points="1197.44,500.62 1199.06,499.00 1200.88,510.34 1199.25,511.97" fill="#f1f1f1" />
<polygon points="1199.06,499.00 1199.81,498.25 1201.62,509.59 1200.88,510.34" fill="#a9a9a9" />
<polygon points="1200.41,497.50 1202.03,495.88 1203.75,506.83 1202.12,508.45" fill="#f1f1f1" />
<polygon points="1202.03,495.88 1202.78,495.12 1204.50,506.08 1203.75,506.83" fill="#a9a9a9" />
<polygon points="1203.38,494.38 1205.00,492.75 1206.62,503.31 1205.00,504.94" fill="#f1f1f1" />
<polygon points="1205.00,492.75 1205.75,492.00 1207.38,502.56 1206.62,503.31" fill="#a9a9a9" />
<polygon points="1206.34,491.25 1207.97,489.62 1209.50,499.80 1207.88,501.42" fill="#f1f1f1" />
<polygon points="1207.97,489.62 1208.72,488.88 1210.25,499.05 1209.50,499.80" fill="#a9a9a9" />
<polygon points="1209.31,488.12 1210.94,486.50 1212.38,496.28 1210.75,497.91" fill="#f1f1f1" />
<polygon points="1210.94,486.50 1211.69,485.75 1213.12,495.53 1212.38,496.28" fill="#a9a9a9" />
<polygon points="1212.28,485.00 1213.91,483.38 1215.25,492.77 1213.62,494.39" fill="#f1f1f1" />
<polygon points="1213.91,483.38 1214.66,482.62 1216.00,492.02 1215.25,492.77" fill="#a9a9a9" />
<polygon points="1215.25,481.88 1216.88,480.25 1218.12,489.25 1216.50,490.88" fill="#f1f1f1" />
<polygon points="1216.88,480.25 1217.62,479.50 1218.88,488.50 1218.12,489.25" fill="#a9a9a9" />
<polygon points="1136.88,484.75 1173.75,446.00 1214.38,464.75 1178.12,500.00" fill="#eeeeee" />
<polygon points="1173.75,446.00 1214.38,464.75 1213.50,466.50 1173.25,447.62" fill="#fafafa" />
<polygon points="1144.75,477.50 1146.75,475.50 1148.50,476.38 1146.50,478.38" fill="#1e1e1e" />
<polygon points="1147.50,479.25 1149.50,477.25 1151.25,478.12 1149.25,480.12" fill="#1e1e1e" />
<text x="1158.00" y="470.00" font-size="2.7" font-weight="bold" fill="#5c5c5c" text-anchor="start" transform="translate(-1.4,7.6) rotate(-46 1158 470)">SR-1009FA-DIN</text>
<text x="1158.00" y="470.00" font-size="1.9" font-weight="normal" fill="#9a9a9a" text-anchor="start" transform="translate(1.6,9.6) rotate(-46 1158 470)">Uin:12-36VDC</text>
<text x="1158.00" y="470.00" font-size="1.9" font-weight="normal" fill="#9a9a9a" text-anchor="start" transform="translate(3.8,11.7) rotate(-46 1158 470)">Iout:4x5A</text>
<text x="1158.00" y="470.00" font-size="1.9" font-weight="normal" fill="#9a9a9a" text-anchor="start" transform="translate(6.0,13.8) rotate(-46 1158 470)">Pout:4x(60-180)W</text>
<text x="1158.00" y="470.00" font-size="5.0" font-weight="bold" fill="#2a2a2a" text-anchor="start" transform="translate(14.0,20.6) rotate(-46 1158 470)">Us C&#8364;&#9746;</text>
<text x="1158.00" y="470.00" font-size="2.5" font-weight="bold" fill="#4a4a4a" text-anchor="start" transform="translate(34.0,0.8) rotate(-46 1158 470)">RoHS</text>
<polygon points="1183.12,487.25 1185.88,484.62 1187.38,485.50 1184.62,488.12" fill="none" stroke="#8e8e8e" stroke-width="0.4" />
<polygon points="1186.75,483.75 1189.50,481.12 1191.00,482.00 1188.25,484.62" fill="none" stroke="#8e8e8e" stroke-width="0.4" />
<polygon points="1190.38,480.25 1193.12,477.62 1194.62,478.50 1191.88,481.12" fill="none" stroke="#8e8e8e" stroke-width="0.4" />
<polygon points="1194.00,476.75 1196.75,474.12 1198.25,475.00 1195.50,477.62" fill="none" stroke="#8e8e8e" stroke-width="0.4" />
<polygon points="1197.62,473.25 1200.38,470.62 1201.88,471.50 1199.12,474.12" fill="none" stroke="#8e8e8e" stroke-width="0.4" />
<polygon points="1201.25,469.75 1204.00,467.12 1205.50,468.00 1202.75,470.62" fill="none" stroke="#8e8e8e" stroke-width="0.4" />
<polygon points="1204.88,466.25 1207.62,463.62 1209.12,464.50 1206.38,467.12" fill="none" stroke="#8e8e8e" stroke-width="0.4" />
<polygon points="1166.88,453.75 1173.12,447.50 1176.00,448.88 1169.75,455.12" fill="none" stroke="#a8a8a8" stroke-width="0.45" />
<polygon points="1197.50,467.75 1206.25,459.38 1208.75,460.62 1200.00,469.00" fill="none" stroke="#7c7c7c" stroke-width="0.45" />
<polygon points="1191.25,522.50 1223.12,490.62 1236.25,500.00 1240.00,511.25 1210.00,543.75 1191.88,528.12" fill="#dcdcdc" />
<polygon points="1200.00,529.62 1215.25,536.00 1237.62,510.50 1238.88,513.62 1212.00,545.62 1208.75,536.50" fill="#1c1c1c" />
<polygon points="1199.25,526.38 1224.75,498.38 1236.00,506.38 1237.62,510.38 1215.25,536.00 1200.00,529.62" fill="#7d7d7d" />
<polygon points="1199.25,526.38 1224.75,498.38 1230.00,502.12 1205.00,529.00" fill="#8f8f8f" />
<circle cx="1215.2" cy="530.0" r="0.85" fill="#333"/>
<circle cx="1218.4" cy="526.0" r="0.85" fill="#333"/>
<circle cx="1221.6" cy="522.0" r="0.85" fill="#333"/>
<circle cx="1224.4" cy="518.4" r="0.85" fill="#333"/>
<circle cx="1228.0" cy="514.4" r="0.85" fill="#333"/>
<polygon points="1203.62,523.50 1206.75,520.38 1211.38,523.50 1208.25,526.62" fill="#f2f2f2" />
<polygon points="1207.95,518.85 1211.08,515.73 1215.70,518.85 1212.58,521.98" fill="#f2f2f2" />
<polygon points="1212.28,514.20 1215.40,511.07 1220.03,514.20 1216.90,517.33" fill="#f2f2f2" />
<polygon points="1216.60,509.55 1219.72,506.43 1224.35,509.55 1221.22,512.67" fill="#f2f2f2" />
<polygon points="1220.92,504.90 1224.05,501.77 1228.67,504.90 1225.55,508.02" fill="#f2f2f2" />
<polygon points="1225.25,500.25 1228.38,497.12 1233.00,500.25 1229.88,503.38" fill="#f2f2f2" />
<polygon points="1215.75,504.00 1219.00,500.75 1223.25,503.62 1220.00,507.00" fill="#f2a58c" />
<polygon points="1222.50,511.25 1227.50,506.50 1232.75,510.00 1227.75,515.25" fill="#ee4a2e" />
<polygon points="1210.38,544.00 1239.25,512.00 1240.88,517.62 1211.50,555.62" fill="#e4e4e4" />
<polygon points="1236.25,500.00 1240.00,511.25 1240.88,517.62 1239.25,515.00 1235.00,502.50" fill="#d2d2d2" />
<polygon points="1191.25,522.50 1192.50,527.50 1210.00,543.75 1211.50,555.62 1209.50,545.00 1191.88,530.00" fill="#d8d8d8" />
<polygon points="1223.12,535.00 1230.00,532.50 1233.12,535.00 1231.88,538.75 1227.50,541.25 1225.00,539.38" fill="#f1f1f1" stroke="#cccccc" stroke-width="0.4" />
</g>
</g>
<defs>
<linearGradient id="cvbody" x1="0" x2="1" y1="0" y2="0"><stop offset="0" stop-color="#d0d0d0"/><stop offset="0.2" stop-color="#c6c6c6"/><stop offset="0.6" stop-color="#b7b7b7"/><stop offset="1" stop-color="#bdbdbd"/></linearGradient>
<linearGradient id="ccearL" gradientUnits="userSpaceOnUse" x1="1422" x2="1447" y1="0" y2="0"><stop offset="0" stop-color="#d9d9d9"/><stop offset="0.5" stop-color="#e4e4e4"/><stop offset="1" stop-color="#ececec"/></linearGradient>
<linearGradient id="ccearR" gradientUnits="userSpaceOnUse" x1="1599" x2="1625" y1="0" y2="0"><stop offset="0" stop-color="#ececec"/><stop offset="0.6" stop-color="#e4e4e4"/><stop offset="1" stop-color="#dcdcdc"/></linearGradient>
<linearGradient id="ccbody" gradientUnits="userSpaceOnUse" x1="0" x2="0" y1="362" y2="416"><stop offset="0" stop-color="#f3f3f3"/><stop offset="0.5" stop-color="#ebebeb"/><stop offset="1" stop-color="#e4e4e4"/></linearGradient>
</defs>
<g filter="url(#soft)">
<g id="hv">
<path d="M1404.2,224.1 C1416,223.6 1427,222.2 1438,220.9" fill="none" stroke="#111" stroke-width="5.7" stroke-linecap="butt"/>
<path d="M1404.2,224.1 C1416,223.6 1427,222.2 1438,220.9" fill="none" stroke="#3a3a3a" stroke-width="1.3" stroke-linecap="butt" transform="translate(0,-1.3)" opacity="0.55"/>
<path d="M1606,221.0 C1619,222.0 1631,224.8 1642.2,228.8" fill="none" stroke="#111" stroke-width="5.7" stroke-linecap="butt"/>
<path d="M1606,221.0 C1619,222.0 1631,224.8 1642.2,228.8" fill="none" stroke="#3a3a3a" stroke-width="1.3" stroke-linecap="butt" transform="translate(0,-1.3)" opacity="0.55"/>
<path d="M1606,243.3 C1619,244.2 1631,247.0 1642.2,250.8" fill="none" stroke="#111" stroke-width="5.7" stroke-linecap="butt"/>
<path d="M1606,243.3 C1619,244.2 1631,247.0 1642.2,250.8" fill="none" stroke="#3a3a3a" stroke-width="1.3" stroke-linecap="butt" transform="translate(0,-1.3)" opacity="0.55"/>
<rect x="1451.3" y="201.7" width="141.7" height="61.1" rx="2.4" fill="#d0d0d0"/>
<rect x="1454.3" y="201.7" width="135.7" height="61.1" rx="1" fill="#e3e3e3"/>
<rect x="1454.3" y="260.8" width="135.7" height="2.0" fill="#c8c8c8"/>
<rect x="1454.3" y="201.7" width="135.7" height="1.2" fill="#ededed"/>
<path d="M1451.0,213.1 L1442.0,213.1 Q1436.0,213.1 1436.0,219.1 L1436.0,222.7 Q1436.0,228.7 1442.0,228.7 L1451.0,228.7 Z" fill="#161616"/>
<rect x="1451.0" y="212.5" width="3.4" height="16.8" rx="0.6" fill="#121212"/>
<path d="M1450.6,213.5 V228.3" stroke="#3a3a3a" stroke-width="0.6"/>
<rect x="1437.6" y="217.5" width="2.8" height="2.7" fill="#7a7a7a" opacity="0.7"/>
<path d="M1443.7,214.3 V227.5" stroke="#303030" stroke-width="0.7"/>
<path d="M1593.6,213.5 L1602.1,213.5 Q1608.1,213.5 1608.1,219.5 L1608.1,222.9 Q1608.1,228.9 1602.1,228.9 L1593.6,228.9 Z" fill="#161616"/>
<rect x="1590.2" y="212.9" width="3.4" height="16.6" rx="0.6" fill="#121212"/>
<path d="M1594.0,213.9 V228.5" stroke="#3a3a3a" stroke-width="0.6"/>
<rect x="1603.7" y="217.9" width="2.8" height="2.7" fill="#7a7a7a" opacity="0.7"/>
<path d="M1600.6,214.7 V227.7" stroke="#303030" stroke-width="0.7"/>
<path d="M1593.6,235.6 L1602.1,235.6 Q1608.1,235.6 1608.1,241.6 L1608.1,245.2 Q1608.1,251.2 1602.1,251.2 L1593.6,251.2 Z" fill="#161616"/>
<rect x="1590.2" y="235.0" width="3.4" height="16.8" rx="0.6" fill="#121212"/>
<path d="M1594.0,236.0 V250.8" stroke="#3a3a3a" stroke-width="0.6"/>
<rect x="1603.7" y="240.0" width="2.8" height="2.7" fill="#7a7a7a" opacity="0.7"/>
<path d="M1600.6,236.8 V250.0" stroke="#303030" stroke-width="0.7"/>
<text x="1494.00" y="209.40" font-size="3.3" font-weight="bold" fill="#484848" text-anchor="start" textLength="32" lengthAdjust="spacingAndGlyphs">SR-1009HT(WP)</text>
<text x="1494.00" y="213.60" font-size="2.5" font-weight="normal" fill="#8a8a8a" text-anchor="start" >AC RF Controller</text>
<text x="1468.60" y="217.60" font-size="2.0" font-weight="bold" fill="#4a4a4a" text-anchor="start" >DMX OUTPUT</text>
<text x="1468.60" y="221.20" font-size="2.128" font-weight="normal" fill="#747474" text-anchor="start" >Grey/White: D+</text>
<text x="1468.60" y="223.70" font-size="2.128" font-weight="normal" fill="#747474" text-anchor="start" >Black: D-</text>
<text x="1468.60" y="226.20" font-size="2.128" font-weight="normal" fill="#747474" text-anchor="start" >Blue: GND</text>
<text x="1494.60" y="218.80" font-size="1.9" font-weight="normal" fill="#777" text-anchor="start" >PRI:</text>
<text x="1494.60" y="222.40" font-size="2.128" font-weight="normal" fill="#747474" text-anchor="start" >100-240V~50/60Hz</text>
<text x="1494.60" y="225.00" font-size="2.128" font-weight="normal" fill="#747474" text-anchor="start" >0.9A Max</text>
<text x="1518.00" y="218.80" font-size="1.9" font-weight="normal" fill="#777" text-anchor="start" >SEC:</text>
<text x="1518.00" y="222.40" font-size="2.128" font-weight="normal" fill="#747474" text-anchor="start" >Constant Volt. 100-240VAC</text>
<text x="1518.00" y="225.00" font-size="2.128" font-weight="normal" fill="#747474" text-anchor="start" >Current: 4x1A</text>
<text x="1518.00" y="227.60" font-size="2.128" font-weight="normal" fill="#747474" text-anchor="start" >Power: 4x(100-240)W</text>
<text x="1553.40" y="214.60" font-size="2.0" font-weight="bold" fill="#444" text-anchor="start" >AC 100-240V</text>
<text x="1553.40" y="217.60" font-size="2.0" font-weight="bold" fill="#444" text-anchor="start" >LED OUTPUT</text>
<text x="1553.40" y="221.20" font-size="2.128" font-weight="normal" fill="#747474" text-anchor="start" >Brown: L</text>
<text x="1553.40" y="223.60" font-size="2.128" font-weight="normal" fill="#747474" text-anchor="start" >Black: R</text>
<text x="1553.40" y="226.00" font-size="2.128" font-weight="normal" fill="#747474" text-anchor="start" >White/Green: G</text>
<text x="1553.40" y="228.40" font-size="2.128" font-weight="normal" fill="#747474" text-anchor="start" >Blue: B</text>
<circle cx="1457.8" cy="218.2" r="0.95" fill="#1a1a1a"/>
<circle cx="1457.8" cy="221.0" r="0.95" fill="#1a1a1a"/>
<circle cx="1457.8" cy="223.8" r="0.95" fill="#1a1a1a"/>
<text x="1461.40" y="225.80" font-size="1.6" font-weight="bold" fill="#777" text-anchor="start" transform="rotate(-90 1461.4 225.8)">DMX512</text>
<text x="1463.40" y="224.20" font-size="1.6" font-weight="normal" fill="#8a8a8a" text-anchor="start" transform="rotate(-90 1463.4 224.2)">OUT</text>
<circle cx="1585.6" cy="217.4" r="0.95" fill="#1a1a1a"/>
<circle cx="1585.6" cy="220.2" r="0.95" fill="#1a1a1a"/>
<circle cx="1585.6" cy="223.0" r="0.95" fill="#1a1a1a"/>
<circle cx="1585.6" cy="225.8" r="0.95" fill="#1a1a1a"/>
<circle cx="1585.6" cy="240.4" r="0.95" fill="#1a1a1a"/>
<circle cx="1585.6" cy="243.2" r="0.95" fill="#1a1a1a"/>
<text x="1580.80" y="228.20" font-size="1.6" font-weight="normal" fill="#8a8a8a" text-anchor="start" transform="rotate(-90 1580.8 228.2)">LED OUTPUT</text>
<text x="1580.80" y="249.60" font-size="1.6" font-weight="normal" fill="#8a8a8a" text-anchor="start" transform="rotate(-90 1580.8 249.6)">AC INPUT</text>
<text x="1578.60" y="247.60" font-size="1.6" font-weight="normal" fill="#8a8a8a" text-anchor="start" transform="rotate(-90 1578.6 247.6)">L N</text>
<circle cx="1526" cy="239.2" r="2.0" fill="#a2a2a2"/><circle cx="1526" cy="239.2" r="1.1" fill="#c2c2c2"/>
<text x="1526.00" y="244.60" font-size="1.6" font-weight="normal" fill="#9a9a9a" text-anchor="middle" >Learning Key</text>
<text x="1547.40" y="239.60" font-size="1.8" font-weight="normal" fill="#9a9a9a" text-anchor="start" >ta=50&#176;C</text>
<text x="1548.60" y="243.40" font-size="1.8" font-weight="normal" fill="#9a9a9a" text-anchor="start" >-20~50&#176;C / 65&#176;C</text>
<g transform="translate(1493.8,254.3) scale(1.25,1)">
<text x="0.00" y="1.90" font-size="5.0" font-weight="bold" fill="#3a3a3a" text-anchor="start" textLength="6.2" lengthAdjust="spacingAndGlyphs">C&#8364;</text>
<path d="M7.6,-2.3 l3.0,3.8 m0,-3.8 l-3.0,3.8" stroke="#3a3a3a" stroke-width="0.5" fill="none"/><rect x="8.1" y="-1.6" width="2" height="2.5" fill="none" stroke="#3a3a3a" stroke-width="0.45"/><rect x="7.5" y="1.9" width="3.2" height="0.65" fill="#3a3a3a"/>
<text x="12.20" y="1.90" font-size="4.6" font-weight="normal" fill="#5a5a5a" text-anchor="start" textLength="11.2" lengthAdjust="spacingAndGlyphs">RoHS</text>
</g>
<text x="1526.40" y="256.40" font-size="2.5" font-weight="bold" fill="#444" text-anchor="start" textLength="7.4" lengthAdjust="spacingAndGlyphs">IP67</text>
</g>
<g id="cc75">
<path d="M1446.6,363.3 L1426.9,363.3 L1426.9,367.9 L1422.6,371.2 L1422.6,373.5 L1426.5,374.3 L1426.5,376.0 L1422.3,377.0 L1422.3,387.7 L1426.5,388.7 L1426.5,390.6 L1422.3,391.6 L1422.3,399.7 L1426.5,400.8 L1426.5,402.3 L1422.6,403.4 L1422.6,404.2 L1426.9,408.2 L1426.9,415.6 L1446.6,415.6 Z" fill="url(#ccearL)"/>
<path d="M1599.0,363.3 L1620.0,363.3 L1620.0,367.9 L1624.3,371.2 L1624.3,373.5 L1620.4,374.3 L1620.4,376.0 L1624.6,377.0 L1624.6,387.7 L1620.4,388.7 L1620.4,390.6 L1624.6,391.6 L1624.6,399.7 L1620.4,400.8 L1620.4,402.3 L1624.3,403.4 L1624.3,404.2 L1620.0,408.2 L1620.0,415.6 L1599.0,415.6 Z" fill="url(#ccearR)"/>
<path d="M1426.9,363.7 H1446.6 M1599,363.7 H1620" stroke="#d9d9d9" stroke-width="0.8"/>
<path d="M1426.9,415.2 H1446.6 M1599,415.2 H1620" stroke="#d0d0d0" stroke-width="0.9"/>
<rect x="1446.5" y="362.6" width="152.6" height="53.1" rx="0.8" fill="url(#ccbody)"/>
<rect x="1446.5" y="413.8" width="152.6" height="1.9" fill="#d2d2d2"/>
<rect x="1446.5" y="362.6" width="152.6" height="1.2" fill="#f4f4f4"/>
<path d="M1446.8,363.1 V415.2" stroke="#d0d0d0" stroke-width="0.9"/>
<path d="M1598.8,363.1 V415.2" stroke="#dadada" stroke-width="0.8"/>
<ellipse cx="1433.6" cy="374.2" rx="2.0" ry="2.3" fill="#262626" transform="rotate(25 1433.6 374.2)"/><circle cx="1433.1" cy="373.7" r="0.6" fill="#6a6a6a"/>
<ellipse cx="1433.6" cy="407.8" rx="2.0" ry="2.3" fill="#262626" transform="rotate(25 1433.6 407.8)"/><circle cx="1433.1" cy="407.3" r="0.6" fill="#6a6a6a"/>
<path d="M1600.7,364.6 V412.8" stroke="#6c6c6c" stroke-width="1.0"/>
<path d="M1600.4,366.0 h4.2 M1600.4,411.5 h4.2" stroke="#222" stroke-width="0.9"/>
<rect x="1449.6" y="376.2" width="3.4" height="3.2" fill="none" stroke="#c4c4c4" stroke-width="0.4"/>
<rect x="1449.6" y="381.2" width="3.4" height="3.2" fill="none" stroke="#c4c4c4" stroke-width="0.4"/>
<rect x="1449.6" y="386.4" width="3.4" height="3.2" fill="none" stroke="#c4c4c4" stroke-width="0.4"/>
<rect x="1449.6" y="392.0" width="3.4" height="3.2" fill="none" stroke="#c4c4c4" stroke-width="0.4"/>
<rect x="1449.6" y="398.0" width="3.4" height="3.2" fill="none" stroke="#c4c4c4" stroke-width="0.4"/>
<text x="1455.80" y="401.40" font-size="1.6" font-weight="normal" fill="#999" text-anchor="start" transform="rotate(-90 1455.8 401.4)">AC INPUT</text>
<text x="1458.00" y="399.00" font-size="1.6" font-weight="normal" fill="#999" text-anchor="start" transform="rotate(-90 1458 399)">L N</text>
<rect x="1449.8" y="406.8" width="4.6" height="1.9" fill="#3a3a3a"/>
<text x="1449.60" y="405.80" font-size="1.4" font-weight="normal" fill="#9a9a9a" text-anchor="start" >SR-2501Z7/SR-2703</text>
<path d="M1449.6,411.4 h14" stroke="#8a8a8a" stroke-width="0.5"/>
<text x="1473.70" y="370.60" font-size="3.3" font-weight="bold" fill="#444" text-anchor="start" textLength="33.5" lengthAdjust="spacingAndGlyphs">SRP-1009-75CCF</text>
<text x="1473.70" y="374.40" font-size="2.3" font-weight="normal" fill="#8a8a8a" text-anchor="start" >RF Dimmable Driver</text>
<rect x="1473.7" y="377.9" width="62.3" height="23.3" fill="none" stroke="#777" stroke-width="0.5"/>
<path d="M1473.7,380.49 H1536.0" stroke="#8e8e8e" stroke-width="0.4"/>
<path d="M1473.7,383.08 H1536.0" stroke="#8e8e8e" stroke-width="0.4"/>
<path d="M1473.7,385.67 H1536.0" stroke="#8e8e8e" stroke-width="0.4"/>
<path d="M1473.7,388.26 H1536.0" stroke="#8e8e8e" stroke-width="0.4"/>
<path d="M1473.7,390.84 H1536.0" stroke="#8e8e8e" stroke-width="0.4"/>
<path d="M1473.7,393.43 H1536.0" stroke="#8e8e8e" stroke-width="0.4"/>
<path d="M1473.7,396.02 H1536.0" stroke="#8e8e8e" stroke-width="0.4"/>
<path d="M1473.7,398.61 H1536.0" stroke="#8e8e8e" stroke-width="0.4"/>
<path d="M1488.8,377.9 V401.2" stroke="#858585" stroke-width="0.45"/>
<path d="M1504.6,377.9 V401.2" stroke="#858585" stroke-width="0.45"/>
<path d="M1521.6,377.9 V401.2" stroke="#858585" stroke-width="0.45"/>
<path d="M1478.6,385.7 V401.2" stroke="#9c9c9c" stroke-width="0.35"/>
<path d="M1483.4,385.7 V401.2" stroke="#9c9c9c" stroke-width="0.35"/>
<path d="M1493.8,385.7 V401.2" stroke="#9c9c9c" stroke-width="0.35"/>
<path d="M1499.0,385.7 V401.2" stroke="#9c9c9c" stroke-width="0.35"/>
<path d="M1509.8,385.7 V401.2" stroke="#9c9c9c" stroke-width="0.35"/>
<path d="M1515.6,385.7 V401.2" stroke="#9c9c9c" stroke-width="0.35"/>
<path d="M1526.4,385.7 V401.2" stroke="#9c9c9c" stroke-width="0.35"/>
<path d="M1531.2,385.7 V401.2" stroke="#9c9c9c" stroke-width="0.35"/>
<text x="1476.00" y="379.90" font-size="1.5" font-weight="normal" fill="#7a7a7a" text-anchor="start" >Uin(VAC)</text>
<text x="1477.00" y="382.50" font-size="1.5" font-weight="normal" fill="#8a8a8a" text-anchor="start" >200-240</text>
<text x="1491.00" y="379.90" font-size="1.5" font-weight="normal" fill="#7a7a7a" text-anchor="start" >Uout(VDC)</text>
<text x="1492.00" y="382.50" font-size="1.5" font-weight="normal" fill="#8a8a8a" text-anchor="start" >10-54</text>
<text x="1506.60" y="379.90" font-size="1.5" font-weight="normal" fill="#7a7a7a" text-anchor="start" >Iout(mA)</text>
<text x="1507.60" y="382.50" font-size="1.5" font-weight="normal" fill="#8a8a8a" text-anchor="start" >350-1500</text>
<text x="1523.60" y="379.90" font-size="1.5" font-weight="normal" fill="#7a7a7a" text-anchor="start" >Pout(W)</text>
<text x="1524.60" y="382.50" font-size="1.5" font-weight="normal" fill="#8a8a8a" text-anchor="start" >75 max</text>
<rect x="1546.7" y="378.2" width="10.6" height="23.6" fill="#d6d6d6" stroke="#8a8a8a" stroke-width="0.35"/>
<path d="M1552.2,378.90 h4.8" stroke="#3c3c3c" stroke-width="1.0" stroke-dasharray="0.9 0.5"/>
<path d="M1547,379.80 h10" stroke="#a8a8a8" stroke-width="0.25"/>
<path d="M1552.2,380.82 h4.8" stroke="#3c3c3c" stroke-width="1.0" stroke-dasharray="1.2 0.5"/>
<path d="M1547,381.72 h10" stroke="#a8a8a8" stroke-width="0.25"/>
<path d="M1552.2,382.74 h4.8" stroke="#3c3c3c" stroke-width="1.0" stroke-dasharray="1.5 0.5"/>
<path d="M1547,383.64 h10" stroke="#a8a8a8" stroke-width="0.25"/>
<path d="M1552.2,384.66 h4.8" stroke="#3c3c3c" stroke-width="1.0" stroke-dasharray="0.9 0.5"/>
<path d="M1547,385.56 h10" stroke="#a8a8a8" stroke-width="0.25"/>
<path d="M1552.2,386.58 h4.8" stroke="#3c3c3c" stroke-width="1.0" stroke-dasharray="1.2 0.5"/>
<path d="M1547,387.48 h10" stroke="#a8a8a8" stroke-width="0.25"/>
<path d="M1552.2,388.50 h4.8" stroke="#3c3c3c" stroke-width="1.0" stroke-dasharray="1.5 0.5"/>
<path d="M1547,389.40 h10" stroke="#a8a8a8" stroke-width="0.25"/>
<path d="M1552.2,390.42 h4.8" stroke="#3c3c3c" stroke-width="1.0" stroke-dasharray="0.9 0.5"/>
<path d="M1547,391.32 h10" stroke="#a8a8a8" stroke-width="0.25"/>
<path d="M1552.2,392.34 h4.8" stroke="#3c3c3c" stroke-width="1.0" stroke-dasharray="1.2 0.5"/>
<path d="M1547,393.24 h10" stroke="#a8a8a8" stroke-width="0.25"/>
<path d="M1552.2,394.26 h4.8" stroke="#3c3c3c" stroke-width="1.0" stroke-dasharray="1.5 0.5"/>
<path d="M1547,395.16 h10" stroke="#a8a8a8" stroke-width="0.25"/>
<path d="M1552.2,396.18 h4.8" stroke="#3c3c3c" stroke-width="1.0" stroke-dasharray="0.9 0.5"/>
<path d="M1547,397.08 h10" stroke="#a8a8a8" stroke-width="0.25"/>
<path d="M1552.2,398.10 h4.8" stroke="#3c3c3c" stroke-width="1.0" stroke-dasharray="1.2 0.5"/>
<path d="M1547,399.00 h10" stroke="#a8a8a8" stroke-width="0.25"/>
<path d="M1552.2,400.02 h4.8" stroke="#3c3c3c" stroke-width="1.0" stroke-dasharray="1.5 0.5"/>
<path d="M1547,400.92 h10" stroke="#a8a8a8" stroke-width="0.25"/>
<path d="M1551.8,378.2 v23.6" stroke="#8a8a8a" stroke-width="0.35"/>
<text x="1545.60" y="377.40" font-size="1.4" font-weight="normal" fill="#8a8a8a" text-anchor="start" >DIP Current Selection</text>
<rect x="1568.6" y="401.6" width="18.8" height="5.0" rx="0.4" fill="#d9343c"/>
<rect x="1570.00" y="402.6" width="1.2" height="2.6" fill="#f4e6e6"/>
<rect x="1572.08" y="402.6" width="1.2" height="2.6" fill="#f4e6e6"/>
<rect x="1574.16" y="402.6" width="1.2" height="2.6" fill="#f4e6e6"/>
<rect x="1576.24" y="402.6" width="1.2" height="2.6" fill="#f4e6e6"/>
<rect x="1578.32" y="402.6" width="1.2" height="2.6" fill="#f4e6e6"/>
<rect x="1580.40" y="402.6" width="1.2" height="2.6" fill="#f4e6e6"/>
<rect x="1582.48" y="402.6" width="1.2" height="2.6" fill="#f4e6e6"/>
<rect x="1584.56" y="402.6" width="1.2" height="2.6" fill="#f4e6e6"/>
<path d="M1568.0,400.4 v7" stroke="#d9343c" stroke-width="0.5"/>
<circle cx="1578.5" cy="394.4" r="1.7" fill="#222"/>
<text x="1578.50" y="398.40" font-size="1.4" font-weight="normal" fill="#9a9a9a" text-anchor="middle" >Learning</text>
<text x="1578.50" y="400.20" font-size="1.4" font-weight="normal" fill="#9a9a9a" text-anchor="middle" >Key</text>
<text x="1588.60" y="399.40" font-size="1.4" font-weight="normal" fill="#8a8a8a" text-anchor="start" transform="rotate(-90 1588.6 399.4)">LED</text>
<rect x="1592.6" y="371.0" width="3.6" height="3.4" fill="#e4e4e4" stroke="#cccccc" stroke-width="0.35"/>
<rect x="1592.6" y="376.0" width="3.6" height="3.4" fill="#e4e4e4" stroke="#cccccc" stroke-width="0.35"/>
<rect x="1592.6" y="381.0" width="3.6" height="3.4" fill="#e4e4e4" stroke="#cccccc" stroke-width="0.35"/>
<rect x="1592.6" y="386.0" width="3.6" height="3.4" fill="#e4e4e4" stroke="#cccccc" stroke-width="0.35"/>
<rect x="1592.6" y="391.0" width="3.6" height="3.4" fill="#e4e4e4" stroke="#cccccc" stroke-width="0.35"/>
<rect x="1592.6" y="396.0" width="3.6" height="3.4" fill="#e4e4e4" stroke="#cccccc" stroke-width="0.35"/>
<rect x="1592.6" y="401.0" width="3.6" height="3.4" fill="#e4e4e4" stroke="#cccccc" stroke-width="0.35"/>
<rect x="1592.6" y="406.0" width="3.6" height="3.4" fill="#e4e4e4" stroke="#cccccc" stroke-width="0.35"/>
<text x="1590.60" y="385.00" font-size="1.5" font-weight="normal" fill="#a4a4a4" text-anchor="start" transform="rotate(-90 1590.6 385)">LED OUTPUT</text>
<circle cx="1475.8" cy="407.2" r="2.0" fill="none" stroke="#4a4a4a" stroke-width="0.5"/>
<text x="1474.50" y="408.00" font-size="2.0" font-weight="bold" fill="#4a4a4a" text-anchor="start" >UL</text>
<text x="1479.80" y="409.10" font-size="5.2" font-weight="bold" fill="#2e2e2e" text-anchor="start" textLength="8.2" lengthAdjust="spacingAndGlyphs">C&#8364;</text>
<text x="1490.20" y="408.20" font-size="2.2" font-weight="bold" fill="#555" text-anchor="start" >SELV</text>
<rect x="1498.1999999999998" y="405.0" width="4.4" height="4.4" fill="none" stroke="#9a9a9a" stroke-width="0.4"/>
<path d="M1506.0,405.0 h4.6 l-2.3,4.4 z" fill="none" stroke="#6a6a6a" stroke-width="0.5"/><circle cx="1508.3" cy="406.59999999999997" r="0.6" fill="#6a6a6a"/>
<path d="M1512.9,405.0 h4.6 l-2.3,4.4 z" fill="none" stroke="#6a6a6a" stroke-width="0.5"/><circle cx="1515.2" cy="406.59999999999997" r="0.6" fill="#6a6a6a"/>
<path d="M1519.8,405.0 h4.6 l-2.3,4.4 z" fill="none" stroke="#6a6a6a" stroke-width="0.5"/><circle cx="1522.1" cy="406.59999999999997" r="0.6" fill="#6a6a6a"/>
<path d="M1526.7,405.0 h4.6 l-2.3,4.4 z" fill="none" stroke="#6a6a6a" stroke-width="0.5"/><circle cx="1529.0" cy="406.59999999999997" r="0.6" fill="#6a6a6a"/>
<path d="M1534.1999999999998,405.59999999999997 h3.8 v3.8 h-4.6 v-3 z" fill="none" stroke="#6a6a6a" stroke-width="0.5"/>
<rect x="1541.1999999999998" y="405.2" width="3" height="4" fill="none" stroke="#6a6a6a" stroke-width="0.45"/><path d="M1541.8,406.4 h1.8 M1541.8,407.59999999999997 h1.8" stroke="#6a6a6a" stroke-width="0.35"/>
<path d="M1547.8,404.8 l2.8,3.5 m0,-3.5 l-2.8,3.5" stroke="#4a4a4a" stroke-width="0.45" fill="none"/><rect x="1547.6" y="408.8" width="3.2" height="0.7" fill="#4a4a4a"/>
<text x="1473.70" y="412.60" font-size="1.5" font-weight="normal" fill="#8c8c8c" text-anchor="start" textLength="75" lengthAdjust="spacingAndGlyphs">RF Series Product &#160;&#160; Suitable for luminaires where ACCESS TO LAMPS DOES NOT REQUIRE</text>
</g>
<g id="cv200">
<rect x="1422.2" y="505.79999999999995" width="34" height="46.9" rx="1" fill="#a1a2a9"/>
<rect x="1590.9" y="505.79999999999995" width="33" height="46.9" rx="1" fill="#a1a2a9"/>
<rect x="1422.2" y="505.79999999999995" width="34" height="1.3" rx="0.6" fill="#b2b3ba"/><rect x="1590.9" y="505.79999999999995" width="33" height="1.3" rx="0.6" fill="#b2b3ba"/>
<rect x="1422.2" y="550.9" width="34" height="1.8" rx="0.6" fill="#909198"/><rect x="1590.9" y="550.9" width="33" height="1.8" rx="0.6" fill="#909198"/>
<rect x="1455.1" y="505.4" width="136.7" height="47.7" fill="url(#cvbody)"/>
<rect x="1455.1" y="551.5" width="136.7" height="1.6" fill="#a0a0a2"/>
<rect x="1455.1" y="505.4" width="136.7" height="1.0" fill="#d6d6d6"/>
<path d="M1455.4,505.4 V553.1 M1591.5,505.4 V553.1" stroke="#8e8e90" stroke-width="0.9"/>
<rect x="1458.8" y="510.6" width="3.4" height="1.6" fill="#2c2c2c"/>
<path d="M1462.6,510.4 h6.8 M1458.8,513.6 h10.6" stroke="#8a8a8a" stroke-width="0.35"/>
<rect x="1457.8" y="517.0" width="3.2" height="2.6" rx="0.6" fill="#bababa" stroke="#a8a8a8" stroke-width="0.3"/>
<rect x="1457.8" y="523.0" width="3.2" height="2.6" rx="0.6" fill="#bababa" stroke="#a8a8a8" stroke-width="0.3"/>
<rect x="1457.8" y="529.2" width="3.2" height="2.6" rx="0.6" fill="#bababa" stroke="#a8a8a8" stroke-width="0.3"/>
<rect x="1457.8" y="535.6" width="3.2" height="2.6" rx="0.6" fill="#bababa" stroke="#a8a8a8" stroke-width="0.3"/>
<rect x="1457.8" y="541.6" width="3.2" height="2.6" rx="0.6" fill="#bababa" stroke="#a8a8a8" stroke-width="0.3"/>
<text x="1464.20" y="528.00" font-size="1.5" font-weight="normal" fill="#9a9a9a" text-anchor="start" transform="rotate(-90 1464.2 528)">AC INPUT</text>
<text x="1476.00" y="512.80" font-size="3.4" font-weight="bold" fill="#2a2a2a" text-anchor="start" textLength="48" lengthAdjust="spacingAndGlyphs">SRPC-1009-24-200CVF</text>
<text x="1476.00" y="516.20" font-size="2.3" font-weight="normal" fill="#444" text-anchor="start" >RF Dimmable Driver</text>
<text x="1476.00" y="519.20" font-size="1.7" font-weight="normal" fill="#8a8a8a" text-anchor="start" textLength="38" lengthAdjust="spacingAndGlyphs">CCT1 in RGBW &#183; 4 ch RGBW &#183; 1 ch DIM RGB&#183;W CCT</text>
<text x="1473.60" y="528.20" font-size="1.8" font-weight="normal" fill="#7a7a7a" text-anchor="start" >INPUT:</text>
<text x="1473.60" y="531.20" font-size="1.9600000000000002" font-weight="normal" fill="#5a5a5a" text-anchor="start" >200-240V~ 0.9A 50/60Hz</text>
<text x="1473.60" y="533.90" font-size="1.9600000000000002" font-weight="normal" fill="#5a5a5a" text-anchor="start" >&#955;=0.95 230VAC Fullload</text>
<text x="1473.60" y="536.60" font-size="1.9600000000000002" font-weight="normal" fill="#5a5a5a" text-anchor="start" >&#951;=0.92 230VAC Fullload</text>
<text x="1505.60" y="523.60" font-size="1.8" font-weight="normal" fill="#7a7a7a" text-anchor="start" >SEC:</text>
<text x="1505.60" y="526.40" font-size="1.9600000000000002" font-weight="normal" fill="#5a5a5a" text-anchor="start" >Output Voltage: 24VDC</text>
<text x="1505.60" y="529.10" font-size="1.9600000000000002" font-weight="normal" fill="#5a5a5a" text-anchor="start" >Output Current: Max 8.3A</text>
<text x="1505.60" y="531.80" font-size="1.9600000000000002" font-weight="normal" fill="#5a5a5a" text-anchor="start" >&#160;&#160;&#160;&#160;&#160;&#160;&#160;&#160;4x2.075A(200W Max)</text>
<text x="1505.60" y="534.50" font-size="1.9600000000000002" font-weight="normal" fill="#5a5a5a" text-anchor="start" >Output Power: Max 200W</text>
<text x="1505.60" y="537.20" font-size="1.9600000000000002" font-weight="normal" fill="#5a5a5a" text-anchor="start" >&#160;&#160;&#160;&#160;&#160;&#160;&#160;&#160;4x50W</text>
<text x="1533.60" y="531.60" font-size="1.9600000000000002" font-weight="normal" fill="#5a5a5a" text-anchor="start" >tc: 85&#176;C</text>
<text x="1533.60" y="534.30" font-size="1.9600000000000002" font-weight="normal" fill="#5a5a5a" text-anchor="start" >ta: -20&#176;C~50&#176;C</text>
<text x="1533.60" y="537.00" font-size="1.9600000000000002" font-weight="normal" fill="#5a5a5a" text-anchor="start" >IP20 &#183; SELV</text>
<path d="M1473.0,544.8 l2.4,-3.8 h4.6 l-1,2.8 h2.4" fill="none" stroke="#2e2e2e" stroke-width="1.0"/>
<text x="1475.60" y="545.00" font-size="3.2" font-weight="bold" fill="#2e2e2e" text-anchor="start" >Us</text>
<circle cx="1491.2" cy="543.4" r="2.4" fill="none" stroke="#444" stroke-width="0.5"/>
<text x="1489.60" y="544.30" font-size="2.4" font-weight="bold" fill="#444" text-anchor="start" >UL</text>
<path d="M1486.4,544.0 l2,-1.2 M1494.0,542.8 l2,1.2" stroke="#444" stroke-width="0.4"/>
<text x="1497.60" y="545.50" font-size="5.6" font-weight="bold" fill="#222" text-anchor="start" textLength="8.6" lengthAdjust="spacingAndGlyphs">C&#8364;</text>
<text x="1507.80" y="544.50" font-size="2.3" font-weight="bold" fill="#444" text-anchor="start" >SELV</text>
<path d="M1517.4,541.1999999999999 h4.4 l-2.2,4.4 z" fill="none" stroke="#7a7a7a" stroke-width="0.5"/><circle cx="1519.6" cy="542.6999999999999" r="0.55" fill="#7a7a7a"/>
<path d="M1524.0,541.1999999999999 h4.4 l-2.2,4.4 z" fill="none" stroke="#7a7a7a" stroke-width="0.5"/><circle cx="1526.2" cy="542.6999999999999" r="0.55" fill="#7a7a7a"/>
<path d="M1530.6,541.1999999999999 h4.4 l-2.2,4.4 z" fill="none" stroke="#7a7a7a" stroke-width="0.5"/><circle cx="1532.8" cy="542.6999999999999" r="0.55" fill="#7a7a7a"/>
<path d="M1537.2,541.1999999999999 h4.4 l-2.2,4.4 z" fill="none" stroke="#7a7a7a" stroke-width="0.5"/><circle cx="1539.4" cy="542.6999999999999" r="0.55" fill="#7a7a7a"/>
<path d="M1544.4,541.8 h3.4 v3.6 h-4.2 v-2.8 z" fill="none" stroke="#777" stroke-width="0.5"/>
<rect x="1550.2" y="541.4" width="2.8" height="4" fill="none" stroke="#666" stroke-width="0.45"/>
<path d="M1555.4,541.0 l2.8,3.5 m0,-3.5 l-2.8,3.5" stroke="#3c3c3c" stroke-width="0.45" fill="none"/><rect x="1555.2" y="545.0" width="3.2" height="0.7" fill="#3c3c3c"/>
<text x="1473.60" y="549.60" font-size="1.5" font-weight="normal" fill="#7a7a7a" text-anchor="start" textLength="83" lengthAdjust="spacingAndGlyphs">RF Series Product &#160; Suitable for luminaires where ACCESS TO LAMPS DOES NOT REQUIRE</text>
<rect x="1558.0" y="519.3" width="29.8" height="20.4" fill="#b0b0b2" stroke="#9a9a9c" stroke-width="0.4"/>
<rect x="1565.4" y="535.6" width="15.4" height="8.0" fill="#b8b8ba" stroke="#9a9a9c" stroke-width="0.4"/>
<circle cx="1558.4" cy="520.4" r="0.95" fill="#55565c"/>
<circle cx="1587.4" cy="520.4" r="0.95" fill="#55565c"/>
<circle cx="1562.6" cy="538.4" r="0.95" fill="#55565c"/>
<circle cx="1583.4" cy="538.4" r="0.95" fill="#55565c"/>
<circle cx="1574" cy="533.6" r="0.9" fill="#2c2c2c"/>
<text x="1574.00" y="537.00" font-size="1.3" font-weight="normal" fill="#8a8a8a" text-anchor="middle" >Learning Key</text>
<rect x="1570.6" y="513.6" width="3.4" height="1.6" fill="#222"/><path d="M1574.4,513.4 h6 M1570.6,516.4 h10" stroke="#8a8a8a" stroke-width="0.3"/>
<rect x="1588.4" y="512.4" width="2.4" height="2.8" fill="#b6b6b8" stroke="#a2a2a4" stroke-width="0.3"/>
<rect x="1588.4" y="517.0" width="2.4" height="2.8" fill="#b6b6b8" stroke="#a2a2a4" stroke-width="0.3"/>
<rect x="1588.4" y="521.6" width="2.4" height="2.8" fill="#b6b6b8" stroke="#a2a2a4" stroke-width="0.3"/>
<rect x="1588.4" y="526.2" width="2.4" height="2.8" fill="#b6b6b8" stroke="#a2a2a4" stroke-width="0.3"/>
<rect x="1588.4" y="530.8" width="2.4" height="2.8" fill="#b6b6b8" stroke="#a2a2a4" stroke-width="0.3"/>
<rect x="1588.4" y="535.4" width="2.4" height="2.8" fill="#b6b6b8" stroke="#a2a2a4" stroke-width="0.3"/>
<rect x="1588.4" y="540.0" width="2.4" height="2.8" fill="#b6b6b8" stroke="#a2a2a4" stroke-width="0.3"/>
<rect x="1588.4" y="544.6" width="2.4" height="2.8" fill="#b6b6b8" stroke="#a2a2a4" stroke-width="0.3"/>
</g>
</g>
</svg>
</body></html>
